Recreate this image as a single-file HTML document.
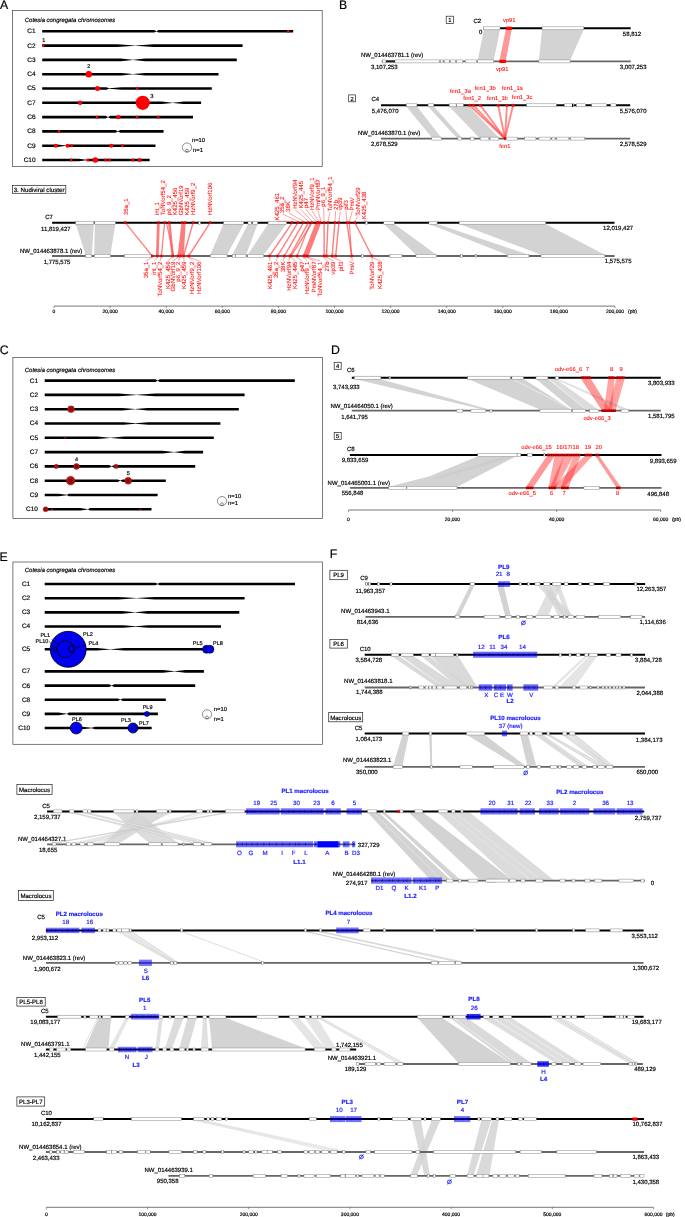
<!DOCTYPE html>
<html><head><meta charset="utf-8"><style>
html,body{margin:0;padding:0;background:#fff;width:685px;height:1217px;overflow:hidden;}
svg{display:block;font-family:"Liberation Sans", sans-serif;will-change:transform;text-rendering:geometricPrecision;}
</style></head><body>
<svg width="685" height="1217" viewBox="0 0 685 1217">
<rect x="0" y="0" width="685" height="1217" fill="#fff"/>
<text x="0.00" y="8.80" font-size="12.3" fill="#000" stroke="#000" stroke-width="0.18">A</text>
<text x="339.00" y="8.80" font-size="12.3" fill="#000" stroke="#000" stroke-width="0.18">B</text>
<text x="-0.30" y="353.80" font-size="12.3" fill="#000" stroke="#000" stroke-width="0.18">C</text>
<text x="331.00" y="353.70" font-size="12.3" fill="#000" stroke="#000" stroke-width="0.18">D</text>
<text x="-0.40" y="560.70" font-size="12.3" fill="#000" stroke="#000" stroke-width="0.18">E</text>
<text x="329.80" y="557.90" font-size="12.3" fill="#000" stroke="#000" stroke-width="0.18">F</text>
<rect x="12.50" y="10.50" width="309.70" height="156.10" fill="#fff" stroke="#444" stroke-width="0.7"/>
<text x="24.80" y="21.60" font-size="5.95" fill="#000" stroke="#000" stroke-width="0.18" font-style="italic">Cotesia congregata chromosomes</text>
<text x="35.60" y="33.24" font-size="6.5" fill="#000" stroke="#000" stroke-width="0.18" text-anchor="end">C1</text>
<polygon points="42.20,30.00 154.20,30.00 156.40,31.15 158.60,30.00 293.20,30.00 293.20,32.60 158.60,32.60 156.40,31.45 154.20,32.60 42.20,32.60" fill="#000"/>
<text x="35.60" y="47.54" font-size="6.5" fill="#000" stroke="#000" stroke-width="0.18" text-anchor="end">C2</text>
<polygon points="42.20,44.30 117.00,44.30 135.30,45.45 153.50,44.30 242.60,44.30 242.60,46.90 153.50,46.90 135.30,45.75 117.00,46.90 42.20,46.90" fill="#000"/>
<text x="35.60" y="61.84" font-size="6.5" fill="#000" stroke="#000" stroke-width="0.18" text-anchor="end">C3</text>
<polygon points="42.20,58.60 120.70,58.60 133.00,59.75 145.50,58.60 236.80,58.60 236.80,61.20 145.50,61.20 133.00,60.05 120.70,61.20 42.20,61.20" fill="#000"/>
<text x="35.60" y="76.14" font-size="6.5" fill="#000" stroke="#000" stroke-width="0.18" text-anchor="end">C4</text>
<polygon points="42.20,72.90 121.40,72.90 133.00,74.05 145.50,72.90 218.50,72.90 218.50,75.50 145.50,75.50 133.00,74.35 121.40,75.50 42.20,75.50" fill="#000"/>
<text x="35.60" y="90.44" font-size="6.5" fill="#000" stroke="#000" stroke-width="0.18" text-anchor="end">C5</text>
<polygon points="42.20,87.20 106.50,87.20 109.00,88.35 121.60,87.20 211.80,87.20 211.80,89.80 121.60,89.80 109.00,88.65 106.50,89.80 42.20,89.80" fill="#000"/>
<text x="35.60" y="104.74" font-size="6.5" fill="#000" stroke="#000" stroke-width="0.18" text-anchor="end">C7</text>
<polygon points="42.20,101.50 161.60,101.50 172.70,102.65 183.80,101.50 201.10,101.50 201.10,104.10 183.80,104.10 172.70,102.95 161.60,104.10 42.20,104.10" fill="#000"/>
<text x="35.60" y="119.04" font-size="6.5" fill="#000" stroke="#000" stroke-width="0.18" text-anchor="end">C6</text>
<polygon points="42.20,115.80 105.50,115.80 108.00,116.95 110.50,115.80 193.00,115.80 193.00,118.40 110.50,118.40 108.00,117.25 105.50,118.40 42.20,118.40" fill="#000"/>
<text x="35.60" y="133.34" font-size="6.5" fill="#000" stroke="#000" stroke-width="0.18" text-anchor="end">C8</text>
<polygon points="42.20,130.10 115.50,130.10 117.90,131.25 120.30,130.10 163.60,130.10 163.60,132.70 120.30,132.70 117.90,131.55 115.50,132.70 42.20,132.70" fill="#000"/>
<text x="35.60" y="147.64" font-size="6.5" fill="#000" stroke="#000" stroke-width="0.18" text-anchor="end">C9</text>
<polygon points="42.20,144.40 57.00,144.40 66.50,145.55 68.50,144.40 155.50,144.40 155.50,147.00 68.50,147.00 66.50,145.85 57.00,147.00 42.20,147.00" fill="#000"/>
<text x="35.60" y="161.94" font-size="6.5" fill="#000" stroke="#000" stroke-width="0.18" text-anchor="end">C10</text>
<polygon points="42.20,158.70 79.00,158.70 86.50,159.85 88.50,158.70 149.60,158.70 149.60,161.30 88.50,161.30 86.50,160.15 79.00,161.30 42.20,161.30" fill="#000"/>
<circle cx="187.00" cy="147.50" r="4.60" fill="none" stroke="#333" stroke-width="0.55"/>
<circle cx="187.00" cy="150.60" r="1.40" fill="none" stroke="#333" stroke-width="0.55"/>
<text x="192.00" y="142.00" font-size="5.8" fill="#000" stroke="#000" stroke-width="0.18">n=10</text>
<text x="193.10" y="152.20" font-size="5.8" fill="#000" stroke="#000" stroke-width="0.18">n=1</text>
<rect x="287.10" y="29.90" width="2.20" height="2.80" fill="#ff0000"/>
<rect x="42.10" y="44.20" width="2.20" height="2.80" fill="#ff0000"/>
<text x="42.20" y="41.68" font-size="5.5" fill="#000" stroke="#000" stroke-width="0.18">1</text>
<circle cx="88.80" cy="74.20" r="3.20" fill="#ff0000"/>
<text x="88.80" y="68.48" font-size="5.5" fill="#000" stroke="#000" stroke-width="0.18" text-anchor="middle">2</text>
<circle cx="97.50" cy="88.50" r="2.50" fill="#ff0000"/>
<rect x="136.10" y="87.10" width="2.20" height="2.80" fill="#ff0000"/>
<circle cx="80.10" cy="102.80" r="2.20" fill="#ff0000"/>
<circle cx="142.70" cy="102.80" r="7.10" fill="#ff0000"/>
<text x="150.20" y="97.99" font-size="5.8" fill="#000" stroke="#000" stroke-width="0.18">3</text>
<rect x="95.90" y="115.70" width="2.20" height="2.80" fill="#ff0000"/>
<circle cx="118.40" cy="117.10" r="2.20" fill="#ff0000"/>
<rect x="136.10" y="115.70" width="2.20" height="2.80" fill="#ff0000"/>
<rect x="157.20" y="115.70" width="2.20" height="2.80" fill="#ff0000"/>
<rect x="57.90" y="130.00" width="2.20" height="2.80" fill="#ff0000"/>
<circle cx="55.80" cy="145.70" r="2.00" fill="#ff0000"/>
<circle cx="67.50" cy="145.70" r="2.00" fill="#ff0000"/>
<rect x="70.60" y="144.30" width="2.20" height="2.80" fill="#ff0000"/>
<circle cx="111.20" cy="145.70" r="2.00" fill="#ff0000"/>
<rect x="121.20" y="144.30" width="2.20" height="2.80" fill="#ff0000"/>
<rect x="70.10" y="158.60" width="2.20" height="2.80" fill="#ff0000"/>
<circle cx="87.60" cy="160.00" r="1.60" fill="#ff0000"/>
<circle cx="95.30" cy="160.00" r="2.80" fill="#ff0000"/>
<rect x="104.40" y="158.60" width="2.20" height="2.80" fill="#ff0000"/>
<rect x="108.10" y="158.60" width="2.20" height="2.80" fill="#ff0000"/>
<rect x="132.20" y="158.60" width="2.20" height="2.80" fill="#ff0000"/>
<circle cx="139.70" cy="160.00" r="2.00" fill="#ff0000"/>
<rect x="12.90" y="357.50" width="309.70" height="161.10" fill="#fff" stroke="#444" stroke-width="0.7"/>
<text x="24.80" y="371.70" font-size="5.95" fill="#000" stroke="#000" stroke-width="0.18" font-style="italic">Cotesia congregata chromosomes</text>
<text x="38.00" y="382.54" font-size="6.5" fill="#000" stroke="#000" stroke-width="0.18" text-anchor="end">C1</text>
<polygon points="44.70,379.30 155.40,379.30 157.60,380.45 159.80,379.30 294.80,379.30 294.80,381.90 159.80,381.90 157.60,380.75 155.40,381.90 44.70,381.90" fill="#000"/>
<text x="38.00" y="396.84" font-size="6.5" fill="#000" stroke="#000" stroke-width="0.18" text-anchor="end">C2</text>
<polygon points="44.70,393.60 118.50,393.60 136.50,394.75 155.00,393.60 244.60,393.60 244.60,396.20 155.00,396.20 136.50,395.05 118.50,396.20 44.70,396.20" fill="#000"/>
<text x="38.00" y="411.14" font-size="6.5" fill="#000" stroke="#000" stroke-width="0.18" text-anchor="end">C3</text>
<polygon points="44.70,407.90 122.50,407.90 135.00,409.05 147.50,407.90 238.80,407.90 238.80,410.50 147.50,410.50 135.00,409.35 122.50,410.50 44.70,410.50" fill="#000"/>
<text x="38.00" y="425.44" font-size="6.5" fill="#000" stroke="#000" stroke-width="0.18" text-anchor="end">C4</text>
<polygon points="44.70,422.20 123.50,422.20 135.50,423.35 148.00,422.20 220.40,422.20 220.40,424.80 148.00,424.80 135.50,423.65 123.50,424.80 44.70,424.80" fill="#000"/>
<text x="38.00" y="439.74" font-size="6.5" fill="#000" stroke="#000" stroke-width="0.18" text-anchor="end">C5</text>
<polygon points="44.70,436.50 97.00,436.50 110.40,437.65 124.00,436.50 213.80,436.50 213.80,439.10 124.00,439.10 110.40,437.95 97.00,439.10 44.70,439.10" fill="#000"/>
<text x="38.00" y="454.04" font-size="6.5" fill="#000" stroke="#000" stroke-width="0.18" text-anchor="end">C7</text>
<polygon points="44.70,450.80 162.50,450.80 174.00,451.95 185.00,450.80 203.10,450.80 203.10,453.40 185.00,453.40 174.00,452.25 162.50,453.40 44.70,453.40" fill="#000"/>
<text x="38.00" y="468.34" font-size="6.5" fill="#000" stroke="#000" stroke-width="0.18" text-anchor="end">C6</text>
<polygon points="44.70,465.10 109.20,465.10 111.70,466.25 114.20,465.10 195.20,465.10 195.20,467.70 114.20,467.70 111.70,466.55 109.20,467.70 44.70,467.70" fill="#000"/>
<text x="38.00" y="482.64" font-size="6.5" fill="#000" stroke="#000" stroke-width="0.18" text-anchor="end">C8</text>
<polygon points="44.70,479.40 117.80,479.40 120.30,480.55 122.80,479.40 165.80,479.40 165.80,482.00 122.80,482.00 120.30,480.85 117.80,482.00 44.70,482.00" fill="#000"/>
<text x="38.00" y="496.94" font-size="6.5" fill="#000" stroke="#000" stroke-width="0.18" text-anchor="end">C9</text>
<polygon points="44.70,493.70 58.50,493.70 67.00,494.85 69.00,493.70 157.60,493.70 157.60,496.30 69.00,496.30 67.00,495.15 58.50,496.30 44.70,496.30" fill="#000"/>
<text x="38.00" y="511.24" font-size="6.5" fill="#000" stroke="#000" stroke-width="0.18" text-anchor="end">C10</text>
<polygon points="44.70,508.00 80.50,508.00 88.00,509.15 90.00,508.00 151.50,508.00 151.50,510.60 90.00,510.60 88.00,509.45 80.50,510.60 44.70,510.60" fill="#000"/>
<circle cx="222.00" cy="501.10" r="4.60" fill="none" stroke="#333" stroke-width="0.55"/>
<circle cx="222.00" cy="504.20" r="1.40" fill="none" stroke="#333" stroke-width="0.55"/>
<text x="228.10" y="498.00" font-size="5.8" fill="#000" stroke="#000" stroke-width="0.18">n=10</text>
<text x="228.10" y="504.60" font-size="5.8" fill="#000" stroke="#000" stroke-width="0.18">n=1</text>
<circle cx="71.00" cy="409.20" r="3.40" fill="#ee1c1c" stroke="#400" stroke-width="0.35"/>
<circle cx="72.57" cy="409.86" r="0.75" fill="none" stroke="#200" stroke-width="0.45"/>
<circle cx="70.85" cy="410.89" r="0.75" fill="none" stroke="#200" stroke-width="0.45"/>
<circle cx="69.34" cy="409.58" r="0.75" fill="none" stroke="#200" stroke-width="0.45"/>
<circle cx="70.12" cy="407.74" r="0.75" fill="none" stroke="#200" stroke-width="0.45"/>
<circle cx="72.11" cy="407.92" r="0.75" fill="none" stroke="#200" stroke-width="0.45"/>
<circle cx="71.00" cy="409.20" r="0.68" fill="none" stroke="#200" stroke-width="0.45"/>
<path d="M64.3 438.8 l1.2 -1.6 l1.2 1.2" stroke="#e31a1c" stroke-width="0.8" fill="none"/>
<circle cx="56.30" cy="466.40" r="2.20" fill="#ee1c1c" stroke="#400" stroke-width="0.35"/>
<circle cx="57.31" cy="466.83" r="0.50" fill="none" stroke="#200" stroke-width="0.45"/>
<circle cx="55.42" cy="467.06" r="0.50" fill="none" stroke="#200" stroke-width="0.45"/>
<circle cx="56.16" cy="465.31" r="0.50" fill="none" stroke="#200" stroke-width="0.45"/>
<circle cx="76.50" cy="466.40" r="3.00" fill="#ee1c1c" stroke="#400" stroke-width="0.35"/>
<circle cx="77.88" cy="466.98" r="0.66" fill="none" stroke="#200" stroke-width="0.45"/>
<circle cx="76.37" cy="467.89" r="0.66" fill="none" stroke="#200" stroke-width="0.45"/>
<circle cx="75.04" cy="466.74" r="0.66" fill="none" stroke="#200" stroke-width="0.45"/>
<circle cx="75.73" cy="465.12" r="0.66" fill="none" stroke="#200" stroke-width="0.45"/>
<circle cx="77.48" cy="465.27" r="0.66" fill="none" stroke="#200" stroke-width="0.45"/>
<circle cx="76.50" cy="466.40" r="0.60" fill="none" stroke="#200" stroke-width="0.45"/>
<text x="76.50" y="461.08" font-size="5.5" fill="#000" stroke="#000" stroke-width="0.18" text-anchor="middle">4</text>
<circle cx="116.10" cy="466.40" r="2.20" fill="#ee1c1c" stroke="#400" stroke-width="0.35"/>
<circle cx="117.11" cy="466.83" r="0.50" fill="none" stroke="#200" stroke-width="0.45"/>
<circle cx="115.22" cy="467.06" r="0.50" fill="none" stroke="#200" stroke-width="0.45"/>
<circle cx="115.96" cy="465.31" r="0.50" fill="none" stroke="#200" stroke-width="0.45"/>
<circle cx="70.60" cy="480.70" r="4.40" fill="#ee1c1c" stroke="#400" stroke-width="0.35"/>
<circle cx="72.63" cy="481.56" r="0.97" fill="none" stroke="#200" stroke-width="0.45"/>
<circle cx="71.19" cy="482.82" r="0.97" fill="none" stroke="#200" stroke-width="0.45"/>
<circle cx="69.31" cy="482.48" r="0.97" fill="none" stroke="#200" stroke-width="0.45"/>
<circle cx="68.40" cy="480.81" r="0.97" fill="none" stroke="#200" stroke-width="0.45"/>
<circle cx="69.15" cy="479.05" r="0.97" fill="none" stroke="#200" stroke-width="0.45"/>
<circle cx="70.98" cy="478.53" r="0.97" fill="none" stroke="#200" stroke-width="0.45"/>
<circle cx="72.53" cy="479.65" r="0.97" fill="none" stroke="#200" stroke-width="0.45"/>
<circle cx="70.60" cy="480.70" r="0.88" fill="none" stroke="#200" stroke-width="0.45"/>
<circle cx="128.20" cy="480.70" r="3.50" fill="#ee1c1c" stroke="#400" stroke-width="0.35"/>
<circle cx="129.81" cy="481.38" r="0.77" fill="none" stroke="#200" stroke-width="0.45"/>
<circle cx="128.05" cy="482.44" r="0.77" fill="none" stroke="#200" stroke-width="0.45"/>
<circle cx="126.50" cy="481.10" r="0.77" fill="none" stroke="#200" stroke-width="0.45"/>
<circle cx="127.30" cy="479.20" r="0.77" fill="none" stroke="#200" stroke-width="0.45"/>
<circle cx="129.35" cy="479.38" r="0.77" fill="none" stroke="#200" stroke-width="0.45"/>
<circle cx="128.20" cy="480.70" r="0.70" fill="none" stroke="#200" stroke-width="0.45"/>
<text x="128.20" y="474.78" font-size="5.5" fill="#000" stroke="#000" stroke-width="0.18" text-anchor="middle">5</text>
<circle cx="45.60" cy="509.30" r="2.50" fill="#ee1c1c" stroke="#400" stroke-width="0.35"/>
<circle cx="46.75" cy="509.79" r="0.55" fill="none" stroke="#200" stroke-width="0.45"/>
<circle cx="45.11" cy="510.45" r="0.55" fill="none" stroke="#200" stroke-width="0.45"/>
<circle cx="44.45" cy="508.81" r="0.55" fill="none" stroke="#200" stroke-width="0.45"/>
<circle cx="46.09" cy="508.15" r="0.55" fill="none" stroke="#200" stroke-width="0.45"/>
<path d="M51.2 510.30000000000007 l1.0 -1.6 l1.0 1.2" stroke="#e31a1c" stroke-width="0.8" fill="none"/>
<path d="M139.3 510.30000000000007 l1.0 -1.6 l1.0 1.2" stroke="#e31a1c" stroke-width="0.8" fill="none"/>
<rect x="12.90" y="562.00" width="309.50" height="182.30" fill="#fff" stroke="#444" stroke-width="0.7"/>
<text x="24.80" y="571.60" font-size="5.95" fill="#000" stroke="#000" stroke-width="0.18" font-style="italic">Cotesia congregata chromosomes</text>
<text x="30.20" y="585.94" font-size="6.5" fill="#000" stroke="#000" stroke-width="0.18" text-anchor="end">C1</text>
<polygon points="44.70,582.70 155.40,582.70 157.60,583.85 159.80,582.70 295.00,582.70 295.00,585.30 159.80,585.30 157.60,584.15 155.40,585.30 44.70,585.30" fill="#000"/>
<text x="30.20" y="600.14" font-size="6.5" fill="#000" stroke="#000" stroke-width="0.18" text-anchor="end">C2</text>
<polygon points="44.70,596.90 118.50,596.90 136.50,598.05 155.00,596.90 244.60,596.90 244.60,599.50 155.00,599.50 136.50,598.35 118.50,599.50 44.70,599.50" fill="#000"/>
<text x="30.20" y="614.34" font-size="6.5" fill="#000" stroke="#000" stroke-width="0.18" text-anchor="end">C3</text>
<polygon points="44.70,611.10 122.50,611.10 135.00,612.25 147.50,611.10 239.30,611.10 239.30,613.70 147.50,613.70 135.00,612.55 122.50,613.70 44.70,613.70" fill="#000"/>
<text x="30.20" y="628.44" font-size="6.5" fill="#000" stroke="#000" stroke-width="0.18" text-anchor="end">C4</text>
<polygon points="44.70,625.20 123.50,625.20 135.50,626.35 148.00,625.20 221.00,625.20 221.00,627.80 148.00,627.80 135.50,626.65 123.50,627.80 44.70,627.80" fill="#000"/>
<text x="30.20" y="651.24" font-size="6.5" fill="#000" stroke="#000" stroke-width="0.18" text-anchor="end">C5</text>
<polygon points="44.70,648.00 97.00,648.00 110.40,649.15 124.00,648.00 213.00,648.00 213.00,650.60 124.00,650.60 110.40,649.45 97.00,650.60 44.70,650.60" fill="#000"/>
<text x="30.20" y="673.34" font-size="6.5" fill="#000" stroke="#000" stroke-width="0.18" text-anchor="end">C7</text>
<polygon points="44.70,670.10 163.00,670.10 174.50,671.25 185.50,670.10 203.90,670.10 203.90,672.70 185.50,672.70 174.50,671.55 163.00,672.70 44.70,672.70" fill="#000"/>
<text x="30.20" y="687.54" font-size="6.5" fill="#000" stroke="#000" stroke-width="0.18" text-anchor="end">C6</text>
<polygon points="44.70,684.30 109.20,684.30 111.70,685.45 114.20,684.30 195.20,684.30 195.20,686.90 114.20,686.90 111.70,685.75 109.20,686.90 44.70,686.90" fill="#000"/>
<text x="30.20" y="701.64" font-size="6.5" fill="#000" stroke="#000" stroke-width="0.18" text-anchor="end">C8</text>
<polygon points="44.70,698.40 117.80,698.40 120.30,699.55 122.80,698.40 165.80,698.40 165.80,701.00 122.80,701.00 120.30,699.85 117.80,701.00 44.70,701.00" fill="#000"/>
<text x="30.20" y="715.84" font-size="6.5" fill="#000" stroke="#000" stroke-width="0.18" text-anchor="end">C9</text>
<polygon points="44.70,712.60 58.50,712.60 67.00,713.75 69.00,712.60 157.90,712.60 157.90,715.20 69.00,715.20 67.00,714.05 58.50,715.20 44.70,715.20" fill="#000"/>
<text x="30.20" y="729.94" font-size="6.5" fill="#000" stroke="#000" stroke-width="0.18" text-anchor="end">C10</text>
<polygon points="44.70,726.70 82.00,726.70 91.80,727.85 95.00,726.70 151.70,726.70 151.70,729.30 95.00,729.30 91.80,728.15 82.00,729.30 44.70,729.30" fill="#000"/>
<circle cx="207.00" cy="714.30" r="4.60" fill="none" stroke="#333" stroke-width="0.55"/>
<circle cx="207.00" cy="717.40" r="1.40" fill="none" stroke="#333" stroke-width="0.55"/>
<text x="213.80" y="711.40" font-size="5.8" fill="#000" stroke="#000" stroke-width="0.18">n=10</text>
<text x="213.80" y="720.80" font-size="5.8" fill="#000" stroke="#000" stroke-width="0.18">n=1</text>
<circle cx="68.20" cy="649.30" r="18.00" fill="#0000ee" stroke="#000" stroke-width="0.8"/>
<circle cx="65.30" cy="649.20" r="8.40" fill="none" stroke="#000" stroke-width="0.8"/>
<circle cx="71.90" cy="648.90" r="3.40" fill="none" stroke="#000" stroke-width="0.8"/>
<circle cx="54.80" cy="649.30" r="2.00" fill="none" stroke="#000" stroke-width="0.8"/>
<text x="40.40" y="637.38" font-size="5.5" fill="#000" stroke="#000" stroke-width="0.18">PL1</text>
<text x="35.50" y="643.28" font-size="5.5" fill="#000" stroke="#000" stroke-width="0.18">PL10</text>
<text x="83.10" y="636.38" font-size="5.5" fill="#000" stroke="#000" stroke-width="0.18">PL2</text>
<text x="88.60" y="644.78" font-size="5.5" fill="#000" stroke="#000" stroke-width="0.18">PL4</text>
<line x1="51.60" y1="639.60" x2="58.00" y2="643.70" stroke="#000" stroke-width="0.6"/>
<line x1="49.30" y1="641.40" x2="53.50" y2="647.40" stroke="#000" stroke-width="0.6"/>
<line x1="75.30" y1="647.80" x2="86.00" y2="645.10" stroke="#000" stroke-width="0.6"/>
<circle cx="206.50" cy="649.30" r="4.00" fill="#0000ee" stroke="#000" stroke-width="0.6"/>
<circle cx="209.90" cy="649.30" r="4.00" fill="#0000ee" stroke="#000" stroke-width="0.6"/>
<text x="192.80" y="644.78" font-size="5.5" fill="#000" stroke="#000" stroke-width="0.18">PL5</text>
<text x="213.00" y="644.78" font-size="5.5" fill="#000" stroke="#000" stroke-width="0.18">PL8</text>
<circle cx="146.90" cy="713.90" r="2.50" fill="#0000ee" stroke="#000" stroke-width="0.6"/>
<text x="142.70" y="708.68" font-size="5.5" fill="#000" stroke="#000" stroke-width="0.18">PL9</text>
<circle cx="76.20" cy="728.00" r="6.00" fill="#0000ee" stroke="#000" stroke-width="0.7"/>
<text x="72.00" y="720.78" font-size="5.5" fill="#000" stroke="#000" stroke-width="0.18">PL6</text>
<circle cx="133.00" cy="728.00" r="5.00" fill="#0000ee" stroke="#000" stroke-width="0.8"/>
<circle cx="134.50" cy="728.30" r="2.60" fill="none" stroke="#000" stroke-width="0.5"/>
<text x="121.00" y="722.28" font-size="5.5" fill="#000" stroke="#000" stroke-width="0.18">PL3</text>
<text x="139.00" y="724.78" font-size="5.5" fill="#000" stroke="#000" stroke-width="0.18">PL7</text>
<rect x="446.20" y="16.20" width="7.40" height="7.40" fill="#fff" stroke="#222" stroke-width="0.7"/>
<text x="449.90" y="22.28" font-size="5.775" fill="#000" stroke="#000" stroke-width="0.18" text-anchor="middle">1</text>
<text x="473.50" y="23.36" font-size="6.0" fill="#000" stroke="#000" stroke-width="0.18">C2</text>
<text x="482.30" y="33.96" font-size="6.0" fill="#000" stroke="#000" stroke-width="0.18" text-anchor="end">0</text>
<polygon points="484.00,29.50 500.00,29.50 493.80,60.20 477.70,60.20" fill="#d3d3d3"/>
<polygon points="542.10,29.50 583.80,29.50 570.10,60.20 538.90,60.20" fill="#d3d3d3"/>
<polygon points="505.90,29.30 511.80,29.30 505.90,60.40 499.40,60.40" fill="#ff1a1a" fill-opacity="0.45"/>
<line x1="483.40" y1="28.30" x2="630.70" y2="28.30" stroke="#000" stroke-width="2.0"/>
<rect x="483.40" y="26.80" width="16.60" height="3.00" fill="#fff" stroke="#888" stroke-width="0.5"/>
<rect x="542.10" y="26.80" width="41.70" height="3.00" fill="#fff" stroke="#888" stroke-width="0.5"/>
<line x1="381.70" y1="61.40" x2="630.70" y2="61.40" stroke="#666666" stroke-width="1.8"/>
<rect x="382.70" y="59.90" width="3.20" height="3.00" fill="#fff" stroke="#888" stroke-width="0.5"/>
<rect x="395.00" y="59.90" width="44.30" height="3.00" fill="#fff" stroke="#888" stroke-width="0.5"/>
<rect x="440.50" y="59.90" width="2.50" height="3.00" fill="#fff" stroke="#888" stroke-width="0.5"/>
<rect x="444.20" y="59.90" width="5.00" height="3.00" fill="#fff" stroke="#888" stroke-width="0.5"/>
<rect x="450.40" y="59.90" width="5.00" height="3.00" fill="#fff" stroke="#888" stroke-width="0.5"/>
<rect x="456.60" y="59.90" width="6.20" height="3.00" fill="#fff" stroke="#888" stroke-width="0.5"/>
<rect x="465.30" y="59.90" width="11.20" height="3.00" fill="#fff" stroke="#888" stroke-width="0.5"/>
<rect x="477.70" y="59.90" width="16.10" height="3.00" fill="#fff" stroke="#888" stroke-width="0.5"/>
<rect x="538.90" y="59.90" width="31.20" height="3.00" fill="#fff" stroke="#888" stroke-width="0.5"/>
<rect x="386.00" y="60.40" width="9.00" height="2.00" fill="#222"/>
<rect x="505.90" y="26.70" width="5.90" height="3.20" fill="#ff0000"/>
<rect x="499.40" y="59.80" width="6.50" height="3.20" fill="#ff0000"/>
<text x="509.30" y="21.99" font-size="5.8" fill="#ff0000" stroke="#ff0000" stroke-width="0.072" text-anchor="middle">vp91</text>
<text x="502.20" y="71.09" font-size="5.8" fill="#ff0000" stroke="#ff0000" stroke-width="0.072" text-anchor="middle">vp91</text>
<text x="361.00" y="56.86" font-size="6.0" fill="#000" stroke="#000" stroke-width="0.18">NW_014463781.1 (rev)</text>
<text x="371.00" y="68.76" font-size="6.0" fill="#000" stroke="#000" stroke-width="0.18">3,107,253</text>
<text x="622.80" y="35.96" font-size="6.0" fill="#000" stroke="#000" stroke-width="0.18">58,812</text>
<text x="619.80" y="68.76" font-size="6.0" fill="#000" stroke="#000" stroke-width="0.18">3,007,253</text>
<rect x="348.70" y="94.90" width="6.70" height="6.90" fill="#fff" stroke="#222" stroke-width="0.7"/>
<text x="352.05" y="100.73" font-size="5.775" fill="#000" stroke="#000" stroke-width="0.18" text-anchor="middle">2</text>
<text x="371.50" y="101.26" font-size="6.0" fill="#000" stroke="#000" stroke-width="0.18">C4</text>
<polygon points="406.30,106.50 417.00,106.50 441.20,137.40 431.80,137.40" fill="#d3d3d3"/>
<polygon points="428.00,106.50 433.80,106.50 461.60,137.40 456.60,137.40" fill="#d3d3d3"/>
<polygon points="449.20,106.50 469.00,106.50 498.80,137.40 479.00,137.40" fill="#d3d3d3"/>
<line x1="381.00" y1="105.30" x2="630.20" y2="105.30" stroke="#000" stroke-width="2.0"/>
<rect x="406.30" y="103.80" width="10.60" height="3.00" fill="#fff" stroke="#888" stroke-width="0.5"/>
<rect x="428.10" y="103.80" width="5.70" height="3.00" fill="#fff" stroke="#888" stroke-width="0.5"/>
<rect x="449.20" y="103.80" width="6.90" height="3.00" fill="#fff" stroke="#888" stroke-width="0.5"/>
<rect x="456.60" y="103.80" width="6.70" height="3.00" fill="#fff" stroke="#888" stroke-width="0.5"/>
<rect x="526.70" y="103.80" width="29.60" height="3.00" fill="#fff" stroke="#888" stroke-width="0.5"/>
<rect x="564.40" y="103.80" width="9.50" height="3.00" fill="#fff" stroke="#888" stroke-width="0.5"/>
<rect x="576.40" y="103.80" width="9.10" height="3.00" fill="#fff" stroke="#888" stroke-width="0.5"/>
<rect x="591.70" y="103.80" width="14.90" height="3.00" fill="#fff" stroke="#888" stroke-width="0.5"/>
<rect x="610.80" y="103.80" width="5.20" height="3.00" fill="#fff" stroke="#888" stroke-width="0.5"/>
<rect x="572.00" y="103.80" width="1.20" height="3.00" fill="#000"/>
<line x1="381.00" y1="138.60" x2="630.20" y2="138.60" stroke="#666666" stroke-width="1.8"/>
<rect x="431.80" y="137.10" width="9.40" height="3.00" fill="#fff" stroke="#888" stroke-width="0.5"/>
<rect x="457.90" y="137.10" width="3.70" height="3.00" fill="#fff" stroke="#888" stroke-width="0.5"/>
<rect x="470.30" y="137.10" width="3.70" height="3.00" fill="#fff" stroke="#888" stroke-width="0.5"/>
<rect x="480.20" y="137.10" width="8.70" height="3.00" fill="#fff" stroke="#888" stroke-width="0.5"/>
<rect x="490.10" y="137.10" width="8.70" height="3.00" fill="#fff" stroke="#888" stroke-width="0.5"/>
<rect x="506.00" y="137.10" width="11.30" height="3.00" fill="#fff" stroke="#888" stroke-width="0.5"/>
<rect x="524.70" y="137.10" width="11.20" height="3.00" fill="#fff" stroke="#888" stroke-width="0.5"/>
<rect x="539.00" y="137.10" width="11.80" height="3.00" fill="#fff" stroke="#888" stroke-width="0.5"/>
<rect x="552.00" y="137.10" width="3.00" height="3.00" fill="#fff" stroke="#888" stroke-width="0.5"/>
<rect x="556.50" y="137.10" width="12.40" height="3.00" fill="#fff" stroke="#888" stroke-width="0.5"/>
<rect x="570.60" y="137.10" width="14.20" height="3.00" fill="#fff" stroke="#888" stroke-width="0.5"/>
<line x1="469.50" y1="105.30" x2="505.00" y2="138.60" stroke="#ff4040" stroke-width="1.9" stroke-opacity="0.6"/>
<circle cx="469.50" cy="105.30" r="1.50" fill="#ff0000"/>
<line x1="473.50" y1="105.30" x2="505.00" y2="138.60" stroke="#ff4040" stroke-width="1.9" stroke-opacity="0.6"/>
<circle cx="473.50" cy="105.30" r="1.50" fill="#ff0000"/>
<line x1="480.40" y1="105.30" x2="505.00" y2="138.60" stroke="#ff4040" stroke-width="1.9" stroke-opacity="0.6"/>
<circle cx="480.40" cy="105.30" r="1.50" fill="#ff0000"/>
<line x1="498.20" y1="105.30" x2="505.00" y2="138.60" stroke="#ff4040" stroke-width="1.9" stroke-opacity="0.6"/>
<circle cx="498.20" cy="105.30" r="1.50" fill="#ff0000"/>
<line x1="506.90" y1="105.30" x2="505.00" y2="138.60" stroke="#ff4040" stroke-width="1.9" stroke-opacity="0.6"/>
<circle cx="506.90" cy="105.30" r="1.50" fill="#ff0000"/>
<line x1="513.10" y1="105.30" x2="505.00" y2="138.60" stroke="#ff4040" stroke-width="1.9" stroke-opacity="0.6"/>
<circle cx="513.10" cy="105.30" r="1.50" fill="#ff0000"/>
<circle cx="505.00" cy="138.60" r="1.40" fill="#c00"/>
<text x="450.00" y="93.49" font-size="5.8" fill="#ff0000" stroke="#ff0000" stroke-width="0.072">fen1_3a</text>
<text x="463.30" y="99.99" font-size="5.8" fill="#ff0000" stroke="#ff0000" stroke-width="0.072">fen1_2</text>
<text x="474.70" y="90.29" font-size="5.8" fill="#ff0000" stroke="#ff0000" stroke-width="0.072">fen1_3b</text>
<text x="486.90" y="99.99" font-size="5.8" fill="#ff0000" stroke="#ff0000" stroke-width="0.072">fen1_1b</text>
<text x="501.90" y="90.09" font-size="5.8" fill="#ff0000" stroke="#ff0000" stroke-width="0.072">fen1_1a</text>
<text x="511.80" y="99.49" font-size="5.8" fill="#ff0000" stroke="#ff0000" stroke-width="0.072">fen1_3c</text>
<text x="499.20" y="147.89" font-size="5.8" fill="#ff0000" stroke="#ff0000" stroke-width="0.072">fen1</text>
<text x="371.80" y="113.16" font-size="6.0" fill="#000" stroke="#000" stroke-width="0.18">5,476,070</text>
<text x="357.90" y="135.46" font-size="6.0" fill="#000" stroke="#000" stroke-width="0.18">NW_014463870.1 (rev)</text>
<text x="371.00" y="145.96" font-size="6.0" fill="#000" stroke="#000" stroke-width="0.18">2,678,529</text>
<text x="619.80" y="113.16" font-size="6.0" fill="#000" stroke="#000" stroke-width="0.18">5,576,070</text>
<text x="619.80" y="145.96" font-size="6.0" fill="#000" stroke="#000" stroke-width="0.18">2,578,529</text>
<rect x="12.40" y="185.40" width="53.40" height="7.90" fill="#fff" stroke="#222" stroke-width="0.7"/>
<text x="39.10" y="191.88" font-size="6.195" fill="#000" stroke="#000" stroke-width="0.18" text-anchor="middle">3. Nudiviral cluster</text>
<text x="45.20" y="218.56" font-size="6.0" fill="#000" stroke="#000" stroke-width="0.18">C7</text>
<text x="41.00" y="230.76" font-size="6.0" fill="#000" stroke="#000" stroke-width="0.18">11,819,427</text>
<text x="19.90" y="252.76" font-size="6.0" fill="#000" stroke="#000" stroke-width="0.18">NW_014463878.1 (rev)</text>
<text x="43.70" y="263.76" font-size="6.0" fill="#000" stroke="#000" stroke-width="0.18">1,775,575</text>
<text x="603.10" y="230.46" font-size="6.0" fill="#000" stroke="#000" stroke-width="0.18">12,019,427</text>
<text x="604.80" y="263.26" font-size="6.0" fill="#000" stroke="#000" stroke-width="0.18">1,575,575</text>
<polygon points="75.70,223.90 93.80,223.90 91.80,254.80 85.60,254.80" fill="#d3d3d3"/>
<polygon points="94.80,223.90 115.40,223.90 110.40,254.80 94.30,254.80" fill="#d3d3d3"/>
<polygon points="223.60,223.90 243.70,223.90 227.10,254.80 210.30,254.80" fill="#d3d3d3"/>
<polygon points="248.00,223.90 257.60,223.90 246.10,254.80 232.40,254.80" fill="#d3d3d3"/>
<polygon points="268.10,223.90 286.50,223.90 263.70,254.80 247.70,254.80" fill="#d3d3d3"/>
<polygon points="383.80,223.90 394.30,223.90 436.40,254.80 416.00,254.80" fill="#d3d3d3"/>
<polygon points="429.00,223.90 437.10,223.90 528.90,254.80 507.20,254.80" fill="#d3d3d3"/>
<polygon points="459.20,223.90 545.70,223.90 604.80,254.80 541.10,254.80" fill="#d3d3d3"/>
<line x1="125.20" y1="222.70" x2="152.20" y2="256.00" stroke="#ff5050" stroke-width="1.26" stroke-opacity="0.75"/>
<line x1="158.40" y1="222.70" x2="157.30" y2="256.00" stroke="#ff5050" stroke-width="2.8" stroke-opacity="0.75"/>
<line x1="164.60" y1="222.70" x2="161.40" y2="256.00" stroke="#ff5050" stroke-width="1.26" stroke-opacity="0.75"/>
<line x1="169.30" y1="222.70" x2="172.70" y2="256.00" stroke="#ff5050" stroke-width="2.52" stroke-opacity="0.75"/>
<line x1="166.50" y1="222.70" x2="173.50" y2="256.00" stroke="#ff5050" stroke-width="1.1199999999999999" stroke-opacity="0.75"/>
<polygon points="181.50,222.70 185.60,222.70 183.80,256.00 177.50,256.00" fill="#ff5050" fill-opacity="0.75"/>
<line x1="193.10" y1="222.70" x2="183.60" y2="256.00" stroke="#ff5050" stroke-width="1.4" stroke-opacity="0.75"/>
<line x1="210.20" y1="222.70" x2="188.70" y2="256.00" stroke="#ff5050" stroke-width="1.4" stroke-opacity="0.75"/>
<line x1="292.30" y1="222.70" x2="269.50" y2="256.00" stroke="#ff5050" stroke-width="1.4" stroke-opacity="0.75"/>
<line x1="297.90" y1="222.70" x2="277.50" y2="256.00" stroke="#ff5050" stroke-width="1.4" stroke-opacity="0.75"/>
<line x1="303.50" y1="222.70" x2="284.30" y2="256.00" stroke="#ff5050" stroke-width="1.4" stroke-opacity="0.75"/>
<line x1="308.40" y1="222.70" x2="289.90" y2="256.00" stroke="#ff5050" stroke-width="1.4" stroke-opacity="0.75"/>
<line x1="312.10" y1="222.70" x2="291.20" y2="256.00" stroke="#ff5050" stroke-width="1.4" stroke-opacity="0.75"/>
<line x1="310.50" y1="222.70" x2="297.10" y2="256.00" stroke="#ff5050" stroke-width="1.1199999999999999" stroke-opacity="0.75"/>
<polygon points="315.60,222.70 321.20,222.70 308.40,256.00 302.70,256.00" fill="#ff5050" fill-opacity="0.75"/>
<line x1="324.10" y1="222.70" x2="324.10" y2="256.00" stroke="#ff5050" stroke-width="1.4" stroke-opacity="0.75"/>
<line x1="328.00" y1="222.70" x2="326.50" y2="256.00" stroke="#ff5050" stroke-width="1.4" stroke-opacity="0.75"/>
<line x1="334.90" y1="222.70" x2="332.10" y2="256.00" stroke="#ff5050" stroke-width="1.4" stroke-opacity="0.75"/>
<line x1="338.90" y1="222.70" x2="335.70" y2="256.00" stroke="#ff5050" stroke-width="1.4" stroke-opacity="0.75"/>
<line x1="346.90" y1="222.70" x2="351.70" y2="256.00" stroke="#ff5050" stroke-width="1.4" stroke-opacity="0.75"/>
<line x1="349.30" y1="222.70" x2="351.70" y2="256.00" stroke="#ff5050" stroke-width="1.1199999999999999" stroke-opacity="0.75"/>
<line x1="354.90" y1="222.70" x2="371.80" y2="256.00" stroke="#ff5050" stroke-width="1.4" stroke-opacity="0.75"/>
<line x1="52.10" y1="222.70" x2="614.50" y2="222.70" stroke="#000" stroke-width="2.0"/>
<rect x="75.70" y="221.20" width="18.10" height="3.00" fill="#fff" stroke="#888" stroke-width="0.5"/>
<rect x="94.80" y="221.20" width="20.60" height="3.00" fill="#fff" stroke="#888" stroke-width="0.5"/>
<rect x="198.60" y="221.20" width="1.80" height="3.00" fill="#fff" stroke="#888" stroke-width="0.5"/>
<rect x="223.60" y="221.20" width="20.10" height="3.00" fill="#fff" stroke="#888" stroke-width="0.5"/>
<rect x="248.00" y="221.20" width="3.50" height="3.00" fill="#fff" stroke="#888" stroke-width="0.5"/>
<rect x="252.80" y="221.20" width="4.80" height="3.00" fill="#fff" stroke="#888" stroke-width="0.5"/>
<rect x="268.10" y="221.20" width="18.40" height="3.00" fill="#fff" stroke="#888" stroke-width="0.5"/>
<rect x="365.60" y="221.20" width="1.80" height="3.00" fill="#fff" stroke="#888" stroke-width="0.5"/>
<rect x="383.80" y="221.20" width="10.50" height="3.00" fill="#fff" stroke="#888" stroke-width="0.5"/>
<rect x="429.00" y="221.20" width="8.10" height="3.00" fill="#fff" stroke="#888" stroke-width="0.5"/>
<rect x="459.20" y="221.20" width="86.50" height="3.00" fill="#fff" stroke="#888" stroke-width="0.5"/>
<line x1="52.00" y1="256.00" x2="614.50" y2="256.00" stroke="#666666" stroke-width="1.8"/>
<rect x="85.60" y="254.50" width="6.20" height="3.00" fill="#fff" stroke="#888" stroke-width="0.5"/>
<rect x="94.30" y="254.50" width="16.10" height="3.00" fill="#fff" stroke="#888" stroke-width="0.5"/>
<rect x="124.50" y="254.50" width="27.00" height="3.00" fill="#fff" stroke="#888" stroke-width="0.5"/>
<rect x="210.30" y="254.50" width="16.80" height="3.00" fill="#fff" stroke="#888" stroke-width="0.5"/>
<rect x="232.40" y="254.50" width="2.70" height="3.00" fill="#fff" stroke="#888" stroke-width="0.5"/>
<rect x="235.50" y="254.50" width="10.60" height="3.00" fill="#fff" stroke="#888" stroke-width="0.5"/>
<rect x="247.70" y="254.50" width="16.00" height="3.00" fill="#fff" stroke="#888" stroke-width="0.5"/>
<rect x="361.60" y="254.50" width="1.80" height="3.00" fill="#fff" stroke="#888" stroke-width="0.5"/>
<rect x="389.80" y="254.50" width="12.20" height="3.00" fill="#fff" stroke="#888" stroke-width="0.5"/>
<rect x="416.00" y="254.50" width="20.40" height="3.00" fill="#fff" stroke="#888" stroke-width="0.5"/>
<rect x="460.55" y="254.50" width="1.80" height="3.00" fill="#fff" stroke="#888" stroke-width="0.5"/>
<rect x="475.00" y="254.50" width="1.50" height="3.00" fill="#fff" stroke="#888" stroke-width="0.5"/>
<rect x="507.20" y="254.50" width="21.70" height="3.00" fill="#fff" stroke="#888" stroke-width="0.5"/>
<rect x="541.00" y="254.50" width="63.80" height="3.00" fill="#fff" stroke="#888" stroke-width="0.5"/>
<rect x="124.00" y="221.40" width="2.40" height="2.60" fill="#e00"/>
<rect x="157.20" y="221.40" width="2.40" height="2.60" fill="#e00"/>
<rect x="163.40" y="221.40" width="2.40" height="2.60" fill="#e00"/>
<rect x="168.10" y="221.40" width="2.40" height="2.60" fill="#e00"/>
<rect x="181.00" y="221.40" width="2.40" height="2.60" fill="#e00"/>
<rect x="183.90" y="221.40" width="2.40" height="2.60" fill="#e00"/>
<rect x="191.90" y="221.40" width="2.40" height="2.60" fill="#e00"/>
<rect x="209.00" y="221.40" width="2.40" height="2.60" fill="#e00"/>
<rect x="291.10" y="221.40" width="2.40" height="2.60" fill="#e00"/>
<rect x="296.70" y="221.40" width="2.40" height="2.60" fill="#e00"/>
<rect x="302.30" y="221.40" width="2.40" height="2.60" fill="#e00"/>
<rect x="307.20" y="221.40" width="2.40" height="2.60" fill="#e00"/>
<rect x="310.90" y="221.40" width="2.40" height="2.60" fill="#e00"/>
<rect x="322.90" y="221.40" width="2.40" height="2.60" fill="#e00"/>
<rect x="326.80" y="221.40" width="2.40" height="2.60" fill="#e00"/>
<rect x="333.70" y="221.40" width="2.40" height="2.60" fill="#e00"/>
<rect x="337.70" y="221.40" width="2.40" height="2.60" fill="#e00"/>
<rect x="345.70" y="221.40" width="2.40" height="2.60" fill="#e00"/>
<rect x="348.10" y="221.40" width="2.40" height="2.60" fill="#e00"/>
<rect x="353.70" y="221.40" width="2.40" height="2.60" fill="#e00"/>
<rect x="315.60" y="221.30" width="5.60" height="2.80" fill="#e00"/>
<rect x="151.00" y="254.70" width="2.40" height="2.60" fill="#e00"/>
<rect x="156.10" y="254.70" width="2.40" height="2.60" fill="#e00"/>
<rect x="160.20" y="254.70" width="2.40" height="2.60" fill="#e00"/>
<rect x="171.50" y="254.70" width="2.40" height="2.60" fill="#e00"/>
<rect x="176.90" y="254.70" width="2.40" height="2.60" fill="#e00"/>
<rect x="179.20" y="254.70" width="2.40" height="2.60" fill="#e00"/>
<rect x="182.40" y="254.70" width="2.40" height="2.60" fill="#e00"/>
<rect x="187.50" y="254.70" width="2.40" height="2.60" fill="#e00"/>
<rect x="268.30" y="254.70" width="2.40" height="2.60" fill="#e00"/>
<rect x="276.30" y="254.70" width="2.40" height="2.60" fill="#e00"/>
<rect x="283.10" y="254.70" width="2.40" height="2.60" fill="#e00"/>
<rect x="288.70" y="254.70" width="2.40" height="2.60" fill="#e00"/>
<rect x="290.00" y="254.70" width="2.40" height="2.60" fill="#e00"/>
<rect x="295.90" y="254.70" width="2.40" height="2.60" fill="#e00"/>
<rect x="322.90" y="254.70" width="2.40" height="2.60" fill="#e00"/>
<rect x="325.30" y="254.70" width="2.40" height="2.60" fill="#e00"/>
<rect x="330.90" y="254.70" width="2.40" height="2.60" fill="#e00"/>
<rect x="334.50" y="254.70" width="2.40" height="2.60" fill="#e00"/>
<rect x="350.50" y="254.70" width="2.40" height="2.60" fill="#e00"/>
<rect x="370.60" y="254.70" width="2.40" height="2.60" fill="#e00"/>
<rect x="302.70" y="254.60" width="5.70" height="2.80" fill="#e00"/>
<text x="127.58" y="215.20" font-size="6.05" fill="#ff1010" stroke="#ff1010" stroke-width="0.072" transform="rotate(-90 127.58 215.20)">35a_1</text>
<text x="159.48" y="215.20" font-size="6.05" fill="#ff1010" stroke="#ff1010" stroke-width="0.072" transform="rotate(-90 159.48 215.20)">int_1</text>
<text x="164.68" y="215.20" font-size="6.05" fill="#ff1010" stroke="#ff1010" stroke-width="0.072" transform="rotate(-90 164.68 215.20)">ToNVorf54_2</text>
<text x="171.18" y="215.20" font-size="6.05" fill="#ff1010" stroke="#ff1010" stroke-width="0.072" transform="rotate(-90 171.18 215.20)">p6_9_2</text>
<text x="177.28" y="215.20" font-size="6.05" fill="#ff1010" stroke="#ff1010" stroke-width="0.072" transform="rotate(-90 177.28 215.20)">K425_456</text>
<text x="183.48" y="215.20" font-size="6.05" fill="#ff1010" stroke="#ff1010" stroke-width="0.072" transform="rotate(-90 183.48 215.20)">GbNVorf19</text>
<text x="188.88" y="215.20" font-size="6.05" fill="#ff1010" stroke="#ff1010" stroke-width="0.072" transform="rotate(-90 188.88 215.20)">K425_459</text>
<text x="194.88" y="215.20" font-size="6.05" fill="#ff1010" stroke="#ff1010" stroke-width="0.072" transform="rotate(-90 194.88 215.20)">HzNVorf9_2</text>
<text x="211.98" y="215.20" font-size="6.05" fill="#ff1010" stroke="#ff1010" stroke-width="0.072" transform="rotate(-90 211.98 215.20)">HzNVorf106</text>
<text x="278.68" y="220.39" font-size="6.05" fill="#ff1010" stroke="#ff1010" stroke-width="0.072" transform="rotate(-90 278.68 220.39)">K425_461</text>
<line x1="276.80" y1="221.19" x2="292.30" y2="221.40" stroke="#ff3030" stroke-width="0.45"/>
<text x="284.38" y="213.12" font-size="6.05" fill="#ff1010" stroke="#ff1010" stroke-width="0.072" transform="rotate(-90 284.38 213.12)">35a_2</text>
<line x1="282.50" y1="213.92" x2="297.90" y2="221.40" stroke="#ff3030" stroke-width="0.45"/>
<text x="290.48" y="211.96" font-size="6.05" fill="#ff1010" stroke="#ff1010" stroke-width="0.072" transform="rotate(-90 290.48 211.96)">38K</text>
<line x1="288.60" y1="212.76" x2="303.50" y2="221.40" stroke="#ff3030" stroke-width="0.45"/>
<text x="297.08" y="208.85" font-size="6.05" fill="#ff1010" stroke="#ff1010" stroke-width="0.072" transform="rotate(-90 297.08 208.85)">HzNVorf94</text>
<line x1="295.20" y1="209.65" x2="308.40" y2="221.40" stroke="#ff3030" stroke-width="0.45"/>
<text x="302.88" y="208.49" font-size="6.05" fill="#ff1010" stroke="#ff1010" stroke-width="0.072" transform="rotate(-90 302.88 208.49)">K425_445</text>
<line x1="301.00" y1="209.29" x2="312.10" y2="221.40" stroke="#ff3030" stroke-width="0.45"/>
<text x="307.58" y="208.09" font-size="6.05" fill="#ff1010" stroke="#ff1010" stroke-width="0.072" transform="rotate(-90 307.58 208.09)">p47</text>
<line x1="305.70" y1="208.89" x2="316.00" y2="221.40" stroke="#ff3030" stroke-width="0.45"/>
<text x="314.08" y="210.02" font-size="6.05" fill="#ff1010" stroke="#ff1010" stroke-width="0.072" transform="rotate(-90 314.08 210.02)">HzNVorf9_1</text>
<line x1="312.20" y1="210.82" x2="318.50" y2="221.40" stroke="#ff3030" stroke-width="0.45"/>
<text x="319.88" y="210.03" font-size="6.05" fill="#ff1010" stroke="#ff1010" stroke-width="0.072" transform="rotate(-90 319.88 210.03)">PmNVorf87</text>
<line x1="318.00" y1="210.83" x2="321.00" y2="221.40" stroke="#ff3030" stroke-width="0.45"/>
<text x="325.48" y="206.69" font-size="6.05" fill="#ff1010" stroke="#ff1010" stroke-width="0.072" transform="rotate(-90 325.48 206.69)">p6_9_1</text>
<line x1="323.60" y1="207.49" x2="324.10" y2="221.40" stroke="#ff3030" stroke-width="0.45"/>
<text x="331.78" y="211.38" font-size="6.05" fill="#ff1010" stroke="#ff1010" stroke-width="0.072" transform="rotate(-90 331.78 211.38)">ToNVorf54_1</text>
<line x1="329.90" y1="212.18" x2="328.00" y2="221.40" stroke="#ff3030" stroke-width="0.45"/>
<text x="337.58" y="210.09" font-size="6.05" fill="#ff1010" stroke="#ff1010" stroke-width="0.072" transform="rotate(-90 337.58 210.09)">27b</text>
<line x1="335.70" y1="210.89" x2="334.90" y2="221.40" stroke="#ff3030" stroke-width="0.45"/>
<text x="342.28" y="210.52" font-size="6.05" fill="#ff1010" stroke="#ff1010" stroke-width="0.072" transform="rotate(-90 342.28 210.52)">vp39</text>
<line x1="340.40" y1="211.32" x2="338.90" y2="221.40" stroke="#ff3030" stroke-width="0.45"/>
<text x="347.78" y="209.75" font-size="6.05" fill="#ff1010" stroke="#ff1010" stroke-width="0.072" transform="rotate(-90 347.78 209.75)">pif3</text>
<line x1="345.90" y1="210.55" x2="346.90" y2="221.40" stroke="#ff3030" stroke-width="0.45"/>
<text x="354.18" y="210.51" font-size="6.05" fill="#ff1010" stroke="#ff1010" stroke-width="0.072" transform="rotate(-90 354.18 210.51)">PmV</text>
<line x1="352.30" y1="211.31" x2="349.30" y2="221.40" stroke="#ff3030" stroke-width="0.45"/>
<text x="359.78" y="215.65" font-size="6.05" fill="#ff1010" stroke="#ff1010" stroke-width="0.072" transform="rotate(-90 359.78 215.65)">ToNVorf29</text>
<line x1="357.90" y1="216.45" x2="354.90" y2="221.40" stroke="#ff3030" stroke-width="0.45"/>
<text x="365.58" y="219.19" font-size="6.05" fill="#ff1010" stroke="#ff1010" stroke-width="0.072" transform="rotate(-90 365.58 219.19)">K425_438</text>
<line x1="363.70" y1="219.99" x2="366.50" y2="221.40" stroke="#ff3030" stroke-width="0.45"/>
<text x="148.18" y="261.50" font-size="6.05" fill="#ff1010" stroke="#ff1010" stroke-width="0.072" text-anchor="end" transform="rotate(-90 148.18 261.50)">35a_1</text>
<line x1="152.20" y1="257.30" x2="146.30" y2="260.80" stroke="#ff3030" stroke-width="0.45"/>
<text x="156.08" y="261.50" font-size="6.05" fill="#ff1010" stroke="#ff1010" stroke-width="0.072" text-anchor="end" transform="rotate(-90 156.08 261.50)">int_1</text>
<line x1="157.30" y1="257.30" x2="154.20" y2="260.80" stroke="#ff3030" stroke-width="0.45"/>
<text x="161.88" y="261.50" font-size="6.05" fill="#ff1010" stroke="#ff1010" stroke-width="0.072" text-anchor="end" transform="rotate(-90 161.88 261.50)">ToNVorf54_2</text>
<line x1="161.40" y1="257.30" x2="160.00" y2="260.80" stroke="#ff3030" stroke-width="0.45"/>
<text x="169.58" y="261.50" font-size="6.05" fill="#ff1010" stroke="#ff1010" stroke-width="0.072" text-anchor="end" transform="rotate(-90 169.58 261.50)">K425_456</text>
<line x1="172.70" y1="257.30" x2="167.70" y2="260.80" stroke="#ff3030" stroke-width="0.45"/>
<text x="174.98" y="261.50" font-size="6.05" fill="#ff1010" stroke="#ff1010" stroke-width="0.072" text-anchor="end" transform="rotate(-90 174.98 261.50)">GbNVorf19</text>
<line x1="178.10" y1="257.30" x2="173.10" y2="260.80" stroke="#ff3030" stroke-width="0.45"/>
<text x="179.88" y="261.50" font-size="6.05" fill="#ff1010" stroke="#ff1010" stroke-width="0.072" text-anchor="end" transform="rotate(-90 179.88 261.50)">p6_9_2</text>
<line x1="180.40" y1="257.30" x2="178.00" y2="260.80" stroke="#ff3030" stroke-width="0.45"/>
<text x="186.08" y="261.50" font-size="6.05" fill="#ff1010" stroke="#ff1010" stroke-width="0.072" text-anchor="end" transform="rotate(-90 186.08 261.50)">K425_459</text>
<line x1="183.60" y1="257.30" x2="184.20" y2="260.80" stroke="#ff3030" stroke-width="0.45"/>
<text x="194.18" y="261.50" font-size="6.05" fill="#ff1010" stroke="#ff1010" stroke-width="0.072" text-anchor="end" transform="rotate(-90 194.18 261.50)">HzNVorf9_2</text>
<line x1="188.70" y1="257.30" x2="192.30" y2="260.80" stroke="#ff3030" stroke-width="0.45"/>
<text x="200.98" y="261.50" font-size="6.05" fill="#ff1010" stroke="#ff1010" stroke-width="0.072" text-anchor="end" transform="rotate(-90 200.98 261.50)">HzNVorf106</text>
<line x1="188.70" y1="257.30" x2="199.10" y2="260.80" stroke="#ff3030" stroke-width="0.45"/>
<text x="271.68" y="261.50" font-size="6.05" fill="#ff1010" stroke="#ff1010" stroke-width="0.072" text-anchor="end" transform="rotate(-90 271.68 261.50)">K425_461</text>
<line x1="269.50" y1="257.30" x2="269.80" y2="260.80" stroke="#ff3030" stroke-width="0.45"/>
<text x="278.28" y="261.50" font-size="6.05" fill="#ff1010" stroke="#ff1010" stroke-width="0.072" text-anchor="end" transform="rotate(-90 278.28 261.50)">35a_2</text>
<line x1="277.50" y1="257.30" x2="276.40" y2="260.80" stroke="#ff3030" stroke-width="0.45"/>
<text x="284.98" y="261.50" font-size="6.05" fill="#ff1010" stroke="#ff1010" stroke-width="0.072" text-anchor="end" transform="rotate(-90 284.98 261.50)">38K</text>
<line x1="284.30" y1="257.30" x2="283.10" y2="260.80" stroke="#ff3030" stroke-width="0.45"/>
<text x="290.68" y="261.50" font-size="6.05" fill="#ff1010" stroke="#ff1010" stroke-width="0.072" text-anchor="end" transform="rotate(-90 290.68 261.50)">HzNVorf94</text>
<line x1="289.90" y1="257.30" x2="288.80" y2="260.80" stroke="#ff3030" stroke-width="0.45"/>
<text x="297.28" y="261.50" font-size="6.05" fill="#ff1010" stroke="#ff1010" stroke-width="0.072" text-anchor="end" transform="rotate(-90 297.28 261.50)">K425_445</text>
<line x1="291.20" y1="257.30" x2="295.40" y2="260.80" stroke="#ff3030" stroke-width="0.45"/>
<text x="303.58" y="261.50" font-size="6.05" fill="#ff1010" stroke="#ff1010" stroke-width="0.072" text-anchor="end" transform="rotate(-90 303.58 261.50)">p47</text>
<line x1="297.10" y1="257.30" x2="301.70" y2="260.80" stroke="#ff3030" stroke-width="0.45"/>
<text x="309.28" y="261.50" font-size="6.05" fill="#ff1010" stroke="#ff1010" stroke-width="0.072" text-anchor="end" transform="rotate(-90 309.28 261.50)">HzNVorf9_1</text>
<line x1="303.50" y1="257.30" x2="307.40" y2="260.80" stroke="#ff3030" stroke-width="0.45"/>
<text x="315.68" y="261.50" font-size="6.05" fill="#ff1010" stroke="#ff1010" stroke-width="0.072" text-anchor="end" transform="rotate(-90 315.68 261.50)">PmNVorf87</text>
<line x1="306.50" y1="257.30" x2="313.80" y2="260.80" stroke="#ff3030" stroke-width="0.45"/>
<text x="321.98" y="261.50" font-size="6.05" fill="#ff1010" stroke="#ff1010" stroke-width="0.072" text-anchor="end" transform="rotate(-90 321.98 261.50)">ToNVorf54_1</text>
<line x1="308.00" y1="257.30" x2="320.10" y2="260.80" stroke="#ff3030" stroke-width="0.45"/>
<text x="328.58" y="261.50" font-size="6.05" fill="#ff1010" stroke="#ff1010" stroke-width="0.072" text-anchor="end" transform="rotate(-90 328.58 261.50)">27b</text>
<line x1="324.10" y1="257.30" x2="326.70" y2="260.80" stroke="#ff3030" stroke-width="0.45"/>
<text x="334.88" y="261.50" font-size="6.05" fill="#ff1010" stroke="#ff1010" stroke-width="0.072" text-anchor="end" transform="rotate(-90 334.88 261.50)">vp39</text>
<line x1="326.50" y1="257.30" x2="333.00" y2="260.80" stroke="#ff3030" stroke-width="0.45"/>
<text x="342.78" y="261.50" font-size="6.05" fill="#ff1010" stroke="#ff1010" stroke-width="0.072" text-anchor="end" transform="rotate(-90 342.78 261.50)">pif3</text>
<line x1="332.10" y1="257.30" x2="340.90" y2="260.80" stroke="#ff3030" stroke-width="0.45"/>
<text x="354.18" y="261.50" font-size="6.05" fill="#ff1010" stroke="#ff1010" stroke-width="0.072" text-anchor="end" transform="rotate(-90 354.18 261.50)">PmV</text>
<line x1="351.70" y1="257.30" x2="352.30" y2="260.80" stroke="#ff3030" stroke-width="0.45"/>
<text x="374.18" y="261.50" font-size="6.05" fill="#ff1010" stroke="#ff1010" stroke-width="0.072" text-anchor="end" transform="rotate(-90 374.18 261.50)">ToNVorf29</text>
<line x1="371.80" y1="257.30" x2="372.30" y2="260.80" stroke="#ff3030" stroke-width="0.45"/>
<text x="382.08" y="261.50" font-size="6.05" fill="#ff1010" stroke="#ff1010" stroke-width="0.072" text-anchor="end" transform="rotate(-90 382.08 261.50)">K425_438</text>
<line x1="371.80" y1="257.30" x2="380.20" y2="260.80" stroke="#ff3030" stroke-width="0.45"/>
<line x1="54.00" y1="306.10" x2="615.00" y2="306.10" stroke="#555" stroke-width="0.8"/>
<line x1="54.00" y1="306.10" x2="54.00" y2="308.10" stroke="#555" stroke-width="0.6"/>
<text x="54.00" y="313.40" font-size="5.0" fill="#000" stroke="#000" stroke-width="0.18" text-anchor="middle">0</text>
<line x1="110.10" y1="306.10" x2="110.10" y2="308.10" stroke="#555" stroke-width="0.6"/>
<text x="110.10" y="313.40" font-size="5.0" fill="#000" stroke="#000" stroke-width="0.18" text-anchor="middle">20,000</text>
<line x1="166.20" y1="306.10" x2="166.20" y2="308.10" stroke="#555" stroke-width="0.6"/>
<text x="166.20" y="313.40" font-size="5.0" fill="#000" stroke="#000" stroke-width="0.18" text-anchor="middle">40,000</text>
<line x1="222.30" y1="306.10" x2="222.30" y2="308.10" stroke="#555" stroke-width="0.6"/>
<text x="222.30" y="313.40" font-size="5.0" fill="#000" stroke="#000" stroke-width="0.18" text-anchor="middle">60,000</text>
<line x1="278.40" y1="306.10" x2="278.40" y2="308.10" stroke="#555" stroke-width="0.6"/>
<text x="278.40" y="313.40" font-size="5.0" fill="#000" stroke="#000" stroke-width="0.18" text-anchor="middle">80,000</text>
<line x1="334.50" y1="306.10" x2="334.50" y2="308.10" stroke="#555" stroke-width="0.6"/>
<text x="334.50" y="313.40" font-size="5.0" fill="#000" stroke="#000" stroke-width="0.18" text-anchor="middle">100,000</text>
<line x1="390.60" y1="306.10" x2="390.60" y2="308.10" stroke="#555" stroke-width="0.6"/>
<text x="390.60" y="313.40" font-size="5.0" fill="#000" stroke="#000" stroke-width="0.18" text-anchor="middle">120,000</text>
<line x1="446.70" y1="306.10" x2="446.70" y2="308.10" stroke="#555" stroke-width="0.6"/>
<text x="446.70" y="313.40" font-size="5.0" fill="#000" stroke="#000" stroke-width="0.18" text-anchor="middle">140,000</text>
<line x1="502.80" y1="306.10" x2="502.80" y2="308.10" stroke="#555" stroke-width="0.6"/>
<text x="502.80" y="313.40" font-size="5.0" fill="#000" stroke="#000" stroke-width="0.18" text-anchor="middle">160,000</text>
<line x1="558.90" y1="306.10" x2="558.90" y2="308.10" stroke="#555" stroke-width="0.6"/>
<text x="558.90" y="313.40" font-size="5.0" fill="#000" stroke="#000" stroke-width="0.18" text-anchor="middle">180,000</text>
<line x1="615.00" y1="306.10" x2="615.00" y2="308.10" stroke="#555" stroke-width="0.6"/>
<text x="615.00" y="313.40" font-size="5.0" fill="#000" stroke="#000" stroke-width="0.18" text-anchor="middle">200,000</text>
<text x="632.50" y="313.40" font-size="5.0" fill="#000" stroke="#000" stroke-width="0.18" text-anchor="middle">(pb)</text>
<rect x="334.20" y="362.30" width="7.00" height="7.00" fill="#fff" stroke="#222" stroke-width="0.7"/>
<text x="337.70" y="368.18" font-size="5.775" fill="#000" stroke="#000" stroke-width="0.18" text-anchor="middle">4</text>
<text x="346.90" y="372.46" font-size="6.0" fill="#000" stroke="#000" stroke-width="0.18">C6</text>
<text x="333.00" y="388.56" font-size="6.0" fill="#000" stroke="#000" stroke-width="0.18">3,743,933</text>
<text x="330.50" y="407.96" font-size="6.0" fill="#000" stroke="#000" stroke-width="0.18">NW_014464050.1 (rev)</text>
<text x="341.20" y="418.56" font-size="6.0" fill="#000" stroke="#000" stroke-width="0.18">1,641,795</text>
<text x="648.00" y="384.66" font-size="6.0" fill="#000" stroke="#000" stroke-width="0.18">3,803,933</text>
<text x="648.00" y="418.16" font-size="6.0" fill="#000" stroke="#000" stroke-width="0.18">1,581,795</text>
<polygon points="354.30,378.90 380.90,378.90 490.00,409.50 483.00,409.50" fill="#d3d3d3"/>
<polygon points="467.70,378.90 523.50,378.90 571.40,409.50 539.90,409.50" fill="#d3d3d3"/>
<polygon points="536.00,378.90 547.90,378.90 585.60,409.50 572.70,409.50" fill="#d3d3d3"/>
<polygon points="549.00,378.90 556.00,378.90 598.40,409.50 586.00,409.50" fill="#d3d3d3" fill-opacity="0.8"/>
<polygon points="555.30,378.90 558.50,378.90 628.60,409.50 621.10,409.50" fill="#d3d3d3" fill-opacity="0.7"/>
<line x1="381.00" y1="378.90" x2="491.00" y2="409.50" stroke="#fff" stroke-width="0.6"/>
<line x1="512.00" y1="378.90" x2="572.00" y2="409.50" stroke="#fff" stroke-width="0.5"/>
<polygon points="580.90,378.70 590.80,378.70 610.00,409.70 601.40,409.70" fill="#ff1a1a" fill-opacity="0.45"/>
<polygon points="608.20,378.70 614.60,378.70 612.00,409.70 604.00,409.70" fill="#ff1a1a" fill-opacity="0.405"/>
<polygon points="616.30,378.70 624.70,378.70 615.80,409.70 608.00,409.70" fill="#ff1a1a" fill-opacity="0.405"/>
<line x1="351.80" y1="377.70" x2="660.80" y2="377.70" stroke="#000" stroke-width="2.0"/>
<rect x="354.30" y="376.20" width="26.60" height="3.00" fill="#fff" stroke="#888" stroke-width="0.5"/>
<rect x="389.00" y="376.20" width="1.50" height="3.00" fill="#fff" stroke="#888" stroke-width="0.5"/>
<rect x="467.70" y="376.20" width="42.90" height="3.00" fill="#fff" stroke="#888" stroke-width="0.5"/>
<rect x="511.90" y="376.20" width="11.60" height="3.00" fill="#fff" stroke="#888" stroke-width="0.5"/>
<rect x="536.00" y="376.20" width="11.90" height="3.00" fill="#fff" stroke="#888" stroke-width="0.5"/>
<rect x="555.30" y="376.20" width="3.20" height="3.00" fill="#fff" stroke="#888" stroke-width="0.5"/>
<line x1="351.80" y1="410.70" x2="660.80" y2="410.70" stroke="#666666" stroke-width="1.8"/>
<rect x="456.80" y="409.20" width="6.00" height="3.00" fill="#fff" stroke="#888" stroke-width="0.5"/>
<rect x="470.90" y="409.20" width="14.90" height="3.00" fill="#fff" stroke="#888" stroke-width="0.5"/>
<rect x="490.00" y="409.20" width="2.00" height="3.00" fill="#fff" stroke="#888" stroke-width="0.5"/>
<rect x="539.90" y="409.20" width="31.50" height="3.00" fill="#fff" stroke="#888" stroke-width="0.5"/>
<rect x="572.70" y="409.20" width="12.90" height="3.00" fill="#fff" stroke="#888" stroke-width="0.5"/>
<rect x="589.60" y="409.20" width="9.10" height="3.00" fill="#fff" stroke="#888" stroke-width="0.5"/>
<rect x="621.10" y="409.20" width="7.50" height="3.00" fill="#fff" stroke="#888" stroke-width="0.5"/>
<rect x="580.90" y="376.40" width="9.90" height="2.60" fill="#e00000"/>
<rect x="581.55" y="376.80" width="0.70" height="1.80" fill="#300" fill-opacity="0.8"/>
<rect x="583.35" y="376.80" width="0.70" height="1.80" fill="#300" fill-opacity="0.8"/>
<rect x="585.15" y="376.80" width="0.70" height="1.80" fill="#300" fill-opacity="0.8"/>
<rect x="586.95" y="376.80" width="0.70" height="1.80" fill="#300" fill-opacity="0.8"/>
<rect x="588.75" y="376.80" width="0.70" height="1.80" fill="#300" fill-opacity="0.8"/>
<rect x="608.20" y="376.40" width="6.40" height="2.60" fill="#e00000"/>
<rect x="608.85" y="376.80" width="0.70" height="1.80" fill="#300" fill-opacity="0.8"/>
<rect x="610.65" y="376.80" width="0.70" height="1.80" fill="#300" fill-opacity="0.8"/>
<rect x="612.45" y="376.80" width="0.70" height="1.80" fill="#300" fill-opacity="0.8"/>
<rect x="616.30" y="376.40" width="8.40" height="2.60" fill="#e00000"/>
<rect x="616.95" y="376.80" width="0.70" height="1.80" fill="#300" fill-opacity="0.8"/>
<rect x="618.75" y="376.80" width="0.70" height="1.80" fill="#300" fill-opacity="0.8"/>
<rect x="620.55" y="376.80" width="0.70" height="1.80" fill="#300" fill-opacity="0.8"/>
<rect x="622.35" y="376.80" width="0.70" height="1.80" fill="#300" fill-opacity="0.8"/>
<rect x="601.40" y="409.40" width="14.40" height="2.60" fill="#e00000"/>
<rect x="602.05" y="409.80" width="0.70" height="1.80" fill="#300" fill-opacity="0.8"/>
<rect x="603.85" y="409.80" width="0.70" height="1.80" fill="#300" fill-opacity="0.8"/>
<rect x="605.65" y="409.80" width="0.70" height="1.80" fill="#300" fill-opacity="0.8"/>
<rect x="607.45" y="409.80" width="0.70" height="1.80" fill="#300" fill-opacity="0.8"/>
<rect x="609.25" y="409.80" width="0.70" height="1.80" fill="#300" fill-opacity="0.8"/>
<rect x="611.05" y="409.80" width="0.70" height="1.80" fill="#300" fill-opacity="0.8"/>
<rect x="612.85" y="409.80" width="0.70" height="1.80" fill="#300" fill-opacity="0.8"/>
<rect x="614.65" y="409.80" width="0.70" height="1.80" fill="#300" fill-opacity="0.8"/>
<text x="554.80" y="370.69" font-size="5.8" fill="#ff0000" stroke="#ff0000" stroke-width="0.072">odv-e66_6</text>
<text x="585.80" y="370.69" font-size="5.8" fill="#ff0000" stroke="#ff0000" stroke-width="0.072">7</text>
<text x="609.90" y="370.69" font-size="5.8" fill="#ff0000" stroke="#ff0000" stroke-width="0.072">8</text>
<text x="619.40" y="370.69" font-size="5.8" fill="#ff0000" stroke="#ff0000" stroke-width="0.072">9</text>
<text x="583.40" y="419.59" font-size="5.8" fill="#ff0000" stroke="#ff0000" stroke-width="0.072">odv-e66_3</text>
<rect x="334.20" y="432.40" width="7.00" height="7.00" fill="#fff" stroke="#222" stroke-width="0.7"/>
<text x="337.70" y="438.28" font-size="5.775" fill="#000" stroke="#000" stroke-width="0.18" text-anchor="middle">5</text>
<text x="346.90" y="450.76" font-size="6.0" fill="#000" stroke="#000" stroke-width="0.18">C8</text>
<text x="341.70" y="462.16" font-size="6.0" fill="#000" stroke="#000" stroke-width="0.18">9,833,659</text>
<text x="327.60" y="484.96" font-size="6.0" fill="#000" stroke="#000" stroke-width="0.18">NW_014465001.1 (rev)</text>
<text x="341.70" y="494.86" font-size="6.0" fill="#000" stroke="#000" stroke-width="0.18">556,848</text>
<text x="649.80" y="462.66" font-size="6.0" fill="#000" stroke="#000" stroke-width="0.18">9,893,659</text>
<text x="647.30" y="495.56" font-size="6.0" fill="#000" stroke="#000" stroke-width="0.18">496,848</text>
<polygon points="478.00,456.20 516.50,456.20 457.30,486.70 388.60,486.70 429.00,476.60" fill="#d3d3d3"/>
<polygon points="505.00,456.20 516.50,456.20 440.00,478.00 433.00,478.00" fill="#c8c8c8" fill-opacity="0.5"/>
<polygon points="546.90,456.00 554.70,456.00 533.40,486.90 525.90,486.90" fill="#ff1a1a" fill-opacity="0.45"/>
<polygon points="554.70,456.00 564.00,456.00 554.70,486.90 548.50,486.90" fill="#ff1a1a" fill-opacity="0.405"/>
<polygon points="564.00,456.00 573.60,456.00 556.30,486.90 550.00,486.90" fill="#ff1a1a" fill-opacity="0.405"/>
<polygon points="573.60,456.00 580.50,456.00 568.90,486.90 561.00,486.90" fill="#ff1a1a" fill-opacity="0.405"/>
<polygon points="584.60,456.00 592.40,456.00 564.00,486.90 553.00,486.90" fill="#ff1a1a" fill-opacity="0.405"/>
<polygon points="595.50,456.00 599.30,456.00 620.70,486.90 616.00,486.90" fill="#ff1a1a" fill-opacity="0.45"/>
<line x1="349.90" y1="455.00" x2="661.50" y2="455.00" stroke="#000" stroke-width="2.0"/>
<rect x="477.80" y="453.50" width="39.30" height="3.00" fill="#fff" stroke="#888" stroke-width="0.5"/>
<rect x="517.10" y="453.50" width="3.70" height="3.00" fill="#fff" stroke="#888" stroke-width="0.5"/>
<rect x="527.40" y="453.50" width="4.70" height="3.00" fill="#fff" stroke="#888" stroke-width="0.5"/>
<rect x="543.80" y="453.50" width="1.20" height="3.00" fill="#fff" stroke="#888" stroke-width="0.5"/>
<line x1="349.90" y1="487.90" x2="661.50" y2="487.90" stroke="#666666" stroke-width="1.8"/>
<rect x="388.80" y="486.40" width="17.40" height="3.00" fill="#fff" stroke="#888" stroke-width="0.5"/>
<rect x="406.90" y="486.40" width="50.10" height="3.00" fill="#fff" stroke="#888" stroke-width="0.5"/>
<rect x="583.90" y="486.40" width="15.40" height="3.00" fill="#fff" stroke="#888" stroke-width="0.5"/>
<rect x="546.90" y="453.70" width="33.60" height="2.60" fill="#e00000"/>
<rect x="547.55" y="454.10" width="0.70" height="1.80" fill="#300" fill-opacity="0.8"/>
<rect x="549.35" y="454.10" width="0.70" height="1.80" fill="#300" fill-opacity="0.8"/>
<rect x="551.15" y="454.10" width="0.70" height="1.80" fill="#300" fill-opacity="0.8"/>
<rect x="552.95" y="454.10" width="0.70" height="1.80" fill="#300" fill-opacity="0.8"/>
<rect x="554.75" y="454.10" width="0.70" height="1.80" fill="#300" fill-opacity="0.8"/>
<rect x="556.55" y="454.10" width="0.70" height="1.80" fill="#300" fill-opacity="0.8"/>
<rect x="558.35" y="454.10" width="0.70" height="1.80" fill="#300" fill-opacity="0.8"/>
<rect x="560.15" y="454.10" width="0.70" height="1.80" fill="#300" fill-opacity="0.8"/>
<rect x="561.95" y="454.10" width="0.70" height="1.80" fill="#300" fill-opacity="0.8"/>
<rect x="563.75" y="454.10" width="0.70" height="1.80" fill="#300" fill-opacity="0.8"/>
<rect x="565.55" y="454.10" width="0.70" height="1.80" fill="#300" fill-opacity="0.8"/>
<rect x="567.35" y="454.10" width="0.70" height="1.80" fill="#300" fill-opacity="0.8"/>
<rect x="569.15" y="454.10" width="0.70" height="1.80" fill="#300" fill-opacity="0.8"/>
<rect x="570.95" y="454.10" width="0.70" height="1.80" fill="#300" fill-opacity="0.8"/>
<rect x="572.75" y="454.10" width="0.70" height="1.80" fill="#300" fill-opacity="0.8"/>
<rect x="574.55" y="454.10" width="0.70" height="1.80" fill="#300" fill-opacity="0.8"/>
<rect x="576.35" y="454.10" width="0.70" height="1.80" fill="#300" fill-opacity="0.8"/>
<rect x="578.15" y="454.10" width="0.70" height="1.80" fill="#300" fill-opacity="0.8"/>
<rect x="584.60" y="453.70" width="7.80" height="2.60" fill="#e00000"/>
<rect x="585.25" y="454.10" width="0.70" height="1.80" fill="#300" fill-opacity="0.8"/>
<rect x="587.05" y="454.10" width="0.70" height="1.80" fill="#300" fill-opacity="0.8"/>
<rect x="588.85" y="454.10" width="0.70" height="1.80" fill="#300" fill-opacity="0.8"/>
<rect x="590.65" y="454.10" width="0.70" height="1.80" fill="#300" fill-opacity="0.8"/>
<rect x="595.50" y="453.70" width="3.80" height="2.60" fill="#e00000"/>
<rect x="596.15" y="454.10" width="0.70" height="1.80" fill="#300" fill-opacity="0.8"/>
<rect x="597.95" y="454.10" width="0.70" height="1.80" fill="#300" fill-opacity="0.8"/>
<rect x="525.90" y="486.60" width="7.50" height="2.60" fill="#e00000"/>
<rect x="526.55" y="487.00" width="0.70" height="1.80" fill="#300" fill-opacity="0.8"/>
<rect x="528.35" y="487.00" width="0.70" height="1.80" fill="#300" fill-opacity="0.8"/>
<rect x="530.15" y="487.00" width="0.70" height="1.80" fill="#300" fill-opacity="0.8"/>
<rect x="531.95" y="487.00" width="0.70" height="1.80" fill="#300" fill-opacity="0.8"/>
<rect x="548.50" y="486.60" width="7.80" height="2.60" fill="#e00000"/>
<rect x="549.15" y="487.00" width="0.70" height="1.80" fill="#300" fill-opacity="0.8"/>
<rect x="550.95" y="487.00" width="0.70" height="1.80" fill="#300" fill-opacity="0.8"/>
<rect x="552.75" y="487.00" width="0.70" height="1.80" fill="#300" fill-opacity="0.8"/>
<rect x="554.55" y="487.00" width="0.70" height="1.80" fill="#300" fill-opacity="0.8"/>
<rect x="561.00" y="486.60" width="7.90" height="2.60" fill="#e00000"/>
<rect x="561.65" y="487.00" width="0.70" height="1.80" fill="#300" fill-opacity="0.8"/>
<rect x="563.45" y="487.00" width="0.70" height="1.80" fill="#300" fill-opacity="0.8"/>
<rect x="565.25" y="487.00" width="0.70" height="1.80" fill="#300" fill-opacity="0.8"/>
<rect x="567.05" y="487.00" width="0.70" height="1.80" fill="#300" fill-opacity="0.8"/>
<rect x="616.00" y="486.60" width="4.70" height="2.60" fill="#e00000"/>
<rect x="616.65" y="487.00" width="0.70" height="1.80" fill="#300" fill-opacity="0.8"/>
<rect x="618.45" y="487.00" width="0.70" height="1.80" fill="#300" fill-opacity="0.8"/>
<text x="521.20" y="449.09" font-size="5.8" fill="#ff0000" stroke="#ff0000" stroke-width="0.072">odv-e66_15</text>
<text x="556.30" y="449.09" font-size="5.8" fill="#ff0000" stroke="#ff0000" stroke-width="0.072">16/17/18</text>
<text x="584.60" y="449.09" font-size="5.8" fill="#ff0000" stroke="#ff0000" stroke-width="0.072">19</text>
<text x="595.50" y="449.09" font-size="5.8" fill="#ff0000" stroke="#ff0000" stroke-width="0.072">20</text>
<text x="508.60" y="495.49" font-size="5.8" fill="#ff0000" stroke="#ff0000" stroke-width="0.072">odv-e66_5</text>
<text x="551.50" y="495.49" font-size="5.8" fill="#ff0000" stroke="#ff0000" stroke-width="0.072" text-anchor="middle">6</text>
<text x="564.00" y="495.49" font-size="5.8" fill="#ff0000" stroke="#ff0000" stroke-width="0.072" text-anchor="middle">7</text>
<text x="617.50" y="495.49" font-size="5.8" fill="#ff0000" stroke="#ff0000" stroke-width="0.072" text-anchor="middle">8</text>
<line x1="348.40" y1="510.00" x2="660.70" y2="510.00" stroke="#555" stroke-width="0.8"/>
<line x1="348.40" y1="510.00" x2="348.40" y2="512.00" stroke="#555" stroke-width="0.6"/>
<text x="348.40" y="520.50" font-size="5.0" fill="#000" stroke="#000" stroke-width="0.18" text-anchor="middle">0</text>
<line x1="452.50" y1="510.00" x2="452.50" y2="512.00" stroke="#555" stroke-width="0.6"/>
<text x="452.50" y="520.50" font-size="5.0" fill="#000" stroke="#000" stroke-width="0.18" text-anchor="middle">20,000</text>
<line x1="556.60" y1="510.00" x2="556.60" y2="512.00" stroke="#555" stroke-width="0.6"/>
<text x="556.60" y="520.50" font-size="5.0" fill="#000" stroke="#000" stroke-width="0.18" text-anchor="middle">40,000</text>
<line x1="660.70" y1="510.00" x2="660.70" y2="512.00" stroke="#555" stroke-width="0.6"/>
<text x="660.70" y="520.50" font-size="5.0" fill="#000" stroke="#000" stroke-width="0.18" text-anchor="middle">60,000</text>
<text x="676.40" y="520.50" font-size="5.0" fill="#000" stroke="#000" stroke-width="0.18" text-anchor="middle">(pb)</text>
<rect x="329.90" y="570.30" width="17.40" height="9.40" fill="#fff" stroke="#222" stroke-width="0.7"/>
<text x="338.60" y="577.49" font-size="6.09" fill="#000" stroke="#000" stroke-width="0.18" text-anchor="middle">PL9</text>
<text x="360.20" y="580.16" font-size="6.0" fill="#000" stroke="#000" stroke-width="0.18">C9</text>
<text x="355.50" y="592.56" font-size="6.0" fill="#000" stroke="#000" stroke-width="0.18">11,963,357</text>
<text x="341.10" y="613.36" font-size="6.0" fill="#000" stroke="#000" stroke-width="0.18">NW_014463943.1</text>
<text x="356.70" y="624.06" font-size="6.0" fill="#000" stroke="#000" stroke-width="0.18">814,636</text>
<text x="636.40" y="591.06" font-size="6.0" fill="#000" stroke="#000" stroke-width="0.18">12,263,357</text>
<text x="639.50" y="624.06" font-size="6.0" fill="#000" stroke="#000" stroke-width="0.18">1,114,636</text>
<polygon points="470.10,585.30 474.60,585.30 459.70,615.70 455.20,615.70" fill="#d3d3d3"/>
<polygon points="497.00,585.30 503.50,585.30 510.80,615.70 505.20,615.70" fill="#d3d3d3"/>
<polygon points="537.50,585.30 543.00,585.30 573.60,615.70 563.00,615.70" fill="#d3d3d3" fill-opacity="0.7"/>
<polygon points="543.50,585.30 550.00,585.30 566.00,615.70 558.00,615.70" fill="#d3d3d3" fill-opacity="0.7"/>
<polygon points="551.00,585.30 561.00,585.30 548.50,615.70 536.00,615.70" fill="#d3d3d3" fill-opacity="0.7"/>
<polygon points="555.00,585.30 560.00,585.30 571.00,615.70 566.00,615.70" fill="#d3d3d3" fill-opacity="0.7"/>
<line x1="365.40" y1="584.10" x2="645.10" y2="584.10" stroke="#000" stroke-width="2.0"/>
<rect x="365.40" y="582.60" width="2.00" height="3.00" fill="#fff" stroke="#888" stroke-width="0.5"/>
<rect x="368.60" y="582.60" width="2.00" height="3.00" fill="#fff" stroke="#888" stroke-width="0.5"/>
<rect x="377.60" y="582.60" width="2.00" height="3.00" fill="#fff" stroke="#888" stroke-width="0.5"/>
<rect x="390.00" y="582.60" width="2.00" height="3.00" fill="#fff" stroke="#888" stroke-width="0.5"/>
<rect x="470.10" y="582.60" width="4.50" height="3.00" fill="#fff" stroke="#888" stroke-width="0.5"/>
<rect x="519.20" y="582.60" width="2.00" height="3.00" fill="#fff" stroke="#888" stroke-width="0.5"/>
<rect x="527.70" y="582.60" width="2.00" height="3.00" fill="#fff" stroke="#888" stroke-width="0.5"/>
<rect x="535.00" y="582.60" width="5.00" height="3.00" fill="#fff" stroke="#888" stroke-width="0.5"/>
<rect x="543.80" y="582.60" width="6.20" height="3.00" fill="#fff" stroke="#888" stroke-width="0.5"/>
<rect x="552.20" y="582.60" width="8.80" height="3.00" fill="#fff" stroke="#888" stroke-width="0.5"/>
<rect x="564.20" y="582.60" width="3.80" height="3.00" fill="#fff" stroke="#888" stroke-width="0.5"/>
<rect x="578.30" y="582.60" width="3.10" height="3.00" fill="#fff" stroke="#888" stroke-width="0.5"/>
<rect x="589.30" y="582.60" width="4.70" height="3.00" fill="#fff" stroke="#888" stroke-width="0.5"/>
<rect x="603.40" y="582.60" width="6.30" height="3.00" fill="#fff" stroke="#888" stroke-width="0.5"/>
<rect x="634.70" y="582.60" width="2.00" height="3.00" fill="#fff" stroke="#888" stroke-width="0.5"/>
<line x1="365.40" y1="616.90" x2="645.10" y2="616.90" stroke="#666666" stroke-width="1.8"/>
<rect x="455.20" y="615.40" width="4.50" height="3.00" fill="#fff" stroke="#888" stroke-width="0.5"/>
<rect x="484.10" y="615.40" width="15.70" height="3.00" fill="#fff" stroke="#888" stroke-width="0.5"/>
<rect x="505.20" y="615.40" width="6.20" height="3.00" fill="#fff" stroke="#888" stroke-width="0.5"/>
<rect x="516.50" y="615.40" width="2.80" height="3.00" fill="#fff" stroke="#888" stroke-width="0.5"/>
<rect x="526.50" y="615.40" width="6.30" height="3.00" fill="#fff" stroke="#888" stroke-width="0.5"/>
<rect x="535.90" y="615.40" width="15.10" height="3.00" fill="#fff" stroke="#888" stroke-width="0.5"/>
<rect x="553.80" y="615.40" width="5.70" height="3.00" fill="#fff" stroke="#888" stroke-width="0.5"/>
<rect x="563.50" y="615.40" width="2.20" height="3.00" fill="#fff" stroke="#888" stroke-width="0.5"/>
<rect x="568.00" y="615.40" width="5.60" height="3.00" fill="#fff" stroke="#888" stroke-width="0.5"/>
<rect x="576.10" y="615.40" width="8.50" height="3.00" fill="#fff" stroke="#888" stroke-width="0.5"/>
<rect x="598.70" y="615.40" width="22.00" height="3.00" fill="#fff" stroke="#888" stroke-width="0.5"/>
<rect x="630.70" y="615.40" width="11.30" height="3.00" fill="#fff" stroke="#888" stroke-width="0.5"/>
<rect x="498.20" y="581.25" width="11.70" height="5.70" fill="#0000ff" fill-opacity="0.6"/>
<rect x="499.30" y="582.90" width="0.80" height="2.40" fill="#000044" fill-opacity="0.7"/>
<rect x="503.25" y="582.90" width="0.80" height="2.40" fill="#000044" fill-opacity="0.7"/>
<rect x="508.43" y="582.90" width="0.80" height="2.40" fill="#000044" fill-opacity="0.7"/>
<text x="503.70" y="568.83" font-size="6.2" fill="#1a1aff" stroke="#1a1aff" stroke-width="0.18" text-anchor="middle" font-weight="bold">PL9</text>
<text x="499.10" y="576.03" font-size="6.2" fill="#1a1aff" stroke="#1a1aff" stroke-width="0.18" text-anchor="middle">21</text>
<text x="508.30" y="576.03" font-size="6.2" fill="#1a1aff" stroke="#1a1aff" stroke-width="0.18" text-anchor="middle">8</text>
<text x="523.40" y="625.33" font-size="6.2" fill="#1a1aff" stroke="#1a1aff" stroke-width="0.18" text-anchor="middle">Ø</text>
<rect x="329.90" y="639.40" width="17.40" height="8.70" fill="#fff" stroke="#222" stroke-width="0.7"/>
<text x="338.60" y="646.24" font-size="6.09" fill="#000" stroke="#000" stroke-width="0.18" text-anchor="middle">PL6</text>
<text x="359.70" y="650.96" font-size="6.0" fill="#000" stroke="#000" stroke-width="0.18">C10</text>
<text x="355.50" y="662.36" font-size="6.0" fill="#000" stroke="#000" stroke-width="0.18">3,584,728</text>
<text x="344.10" y="683.46" font-size="6.0" fill="#000" stroke="#000" stroke-width="0.18">NW_014463818.1</text>
<text x="356.00" y="694.16" font-size="6.0" fill="#000" stroke="#000" stroke-width="0.18">1,744,388</text>
<text x="635.10" y="662.36" font-size="6.0" fill="#000" stroke="#000" stroke-width="0.18">3,884,728</text>
<text x="636.40" y="694.56" font-size="6.0" fill="#000" stroke="#000" stroke-width="0.18">2,044,388</text>
<polygon points="391.40,655.90 398.90,655.90 443.00,686.30 436.00,686.30" fill="#d3d3d3" fill-opacity="0.85"/>
<polygon points="401.00,655.90 413.30,655.90 458.80,686.30 443.00,686.30" fill="#d3d3d3" fill-opacity="0.85"/>
<polygon points="421.50,655.90 429.00,655.90 469.30,686.30 457.00,686.30" fill="#d3d3d3" fill-opacity="0.85"/>
<polygon points="430.80,655.90 458.00,655.90 477.00,686.30 464.00,686.30" fill="#d3d3d3" fill-opacity="0.85"/>
<polygon points="584.80,655.90 588.10,655.90 556.00,686.30 552.60,686.30" fill="#d3d3d3" fill-opacity="0.6"/>
<polygon points="589.10,655.90 597.30,655.90 575.60,686.30 560.00,686.30" fill="#d3d3d3" fill-opacity="0.6"/>
<line x1="364.70" y1="654.70" x2="645.00" y2="654.70" stroke="#000" stroke-width="2.0"/>
<rect x="391.40" y="653.20" width="7.50" height="3.00" fill="#fff" stroke="#888" stroke-width="0.5"/>
<rect x="401.00" y="653.20" width="12.30" height="3.00" fill="#fff" stroke="#888" stroke-width="0.5"/>
<rect x="421.50" y="653.20" width="7.50" height="3.00" fill="#fff" stroke="#888" stroke-width="0.5"/>
<rect x="430.80" y="653.20" width="4.90" height="3.00" fill="#fff" stroke="#888" stroke-width="0.5"/>
<rect x="435.70" y="653.20" width="17.90" height="3.00" fill="#fff" stroke="#888" stroke-width="0.5"/>
<rect x="456.20" y="653.20" width="1.80" height="3.00" fill="#fff" stroke="#888" stroke-width="0.5"/>
<rect x="559.20" y="653.20" width="2.00" height="3.00" fill="#fff" stroke="#888" stroke-width="0.5"/>
<rect x="569.00" y="653.20" width="2.00" height="3.00" fill="#fff" stroke="#888" stroke-width="0.5"/>
<rect x="576.60" y="653.20" width="3.40" height="3.00" fill="#fff" stroke="#888" stroke-width="0.5"/>
<rect x="584.80" y="653.20" width="3.30" height="3.00" fill="#fff" stroke="#888" stroke-width="0.5"/>
<rect x="589.10" y="653.20" width="8.20" height="3.00" fill="#fff" stroke="#888" stroke-width="0.5"/>
<rect x="606.20" y="653.20" width="4.30" height="3.00" fill="#fff" stroke="#888" stroke-width="0.5"/>
<rect x="616.00" y="653.20" width="5.00" height="3.00" fill="#fff" stroke="#888" stroke-width="0.5"/>
<rect x="630.50" y="653.20" width="2.00" height="3.00" fill="#fff" stroke="#888" stroke-width="0.5"/>
<line x1="364.70" y1="687.50" x2="645.00" y2="687.50" stroke="#666666" stroke-width="1.8"/>
<rect x="409.80" y="686.00" width="1.70" height="3.00" fill="#fff" stroke="#888" stroke-width="0.5"/>
<rect x="418.90" y="686.00" width="4.90" height="3.00" fill="#fff" stroke="#888" stroke-width="0.5"/>
<rect x="425.20" y="686.00" width="3.00" height="3.00" fill="#fff" stroke="#888" stroke-width="0.5"/>
<rect x="429.00" y="686.00" width="2.60" height="3.00" fill="#fff" stroke="#888" stroke-width="0.5"/>
<rect x="432.50" y="686.00" width="3.50" height="3.00" fill="#fff" stroke="#888" stroke-width="0.5"/>
<rect x="437.00" y="686.00" width="5.20" height="3.00" fill="#fff" stroke="#888" stroke-width="0.5"/>
<rect x="443.90" y="686.00" width="13.10" height="3.00" fill="#fff" stroke="#888" stroke-width="0.5"/>
<rect x="459.70" y="686.00" width="7.00" height="3.00" fill="#fff" stroke="#888" stroke-width="0.5"/>
<rect x="468.40" y="686.00" width="1.80" height="3.00" fill="#fff" stroke="#888" stroke-width="0.5"/>
<rect x="471.00" y="686.00" width="1.80" height="3.00" fill="#fff" stroke="#888" stroke-width="0.5"/>
<rect x="543.80" y="686.00" width="8.80" height="3.00" fill="#fff" stroke="#888" stroke-width="0.5"/>
<rect x="555.30" y="686.00" width="3.20" height="3.00" fill="#fff" stroke="#888" stroke-width="0.5"/>
<rect x="572.40" y="686.00" width="3.20" height="3.00" fill="#fff" stroke="#888" stroke-width="0.5"/>
<rect x="579.90" y="686.00" width="7.60" height="3.00" fill="#fff" stroke="#888" stroke-width="0.5"/>
<rect x="589.80" y="686.00" width="1.60" height="3.00" fill="#fff" stroke="#888" stroke-width="0.5"/>
<rect x="597.00" y="686.00" width="2.00" height="3.00" fill="#fff" stroke="#888" stroke-width="0.5"/>
<rect x="602.00" y="686.00" width="2.00" height="3.00" fill="#fff" stroke="#888" stroke-width="0.5"/>
<rect x="605.50" y="686.00" width="2.00" height="3.00" fill="#fff" stroke="#888" stroke-width="0.5"/>
<rect x="609.00" y="686.00" width="2.00" height="3.00" fill="#fff" stroke="#888" stroke-width="0.5"/>
<rect x="613.00" y="686.00" width="2.00" height="3.00" fill="#fff" stroke="#888" stroke-width="0.5"/>
<rect x="616.00" y="686.00" width="2.00" height="3.00" fill="#fff" stroke="#888" stroke-width="0.5"/>
<rect x="619.00" y="686.00" width="2.00" height="3.00" fill="#fff" stroke="#888" stroke-width="0.5"/>
<rect x="623.00" y="686.00" width="2.00" height="3.00" fill="#fff" stroke="#888" stroke-width="0.5"/>
<rect x="473.10" y="651.70" width="64.10" height="6.00" fill="#0000ff" fill-opacity="0.58"/>
<rect x="474.20" y="653.50" width="0.80" height="2.40" fill="#000044" fill-opacity="0.7"/>
<rect x="479.62" y="653.50" width="0.80" height="2.40" fill="#000044" fill-opacity="0.7"/>
<rect x="485.12" y="653.50" width="0.80" height="2.40" fill="#000044" fill-opacity="0.7"/>
<rect x="488.38" y="653.50" width="0.80" height="2.40" fill="#000044" fill-opacity="0.7"/>
<rect x="491.43" y="653.50" width="0.80" height="2.40" fill="#000044" fill-opacity="0.7"/>
<rect x="497.78" y="653.50" width="0.80" height="2.40" fill="#000044" fill-opacity="0.7"/>
<rect x="501.82" y="653.50" width="0.80" height="2.40" fill="#000044" fill-opacity="0.7"/>
<rect x="505.76" y="653.50" width="0.80" height="2.40" fill="#000044" fill-opacity="0.7"/>
<rect x="512.74" y="653.50" width="0.80" height="2.40" fill="#000044" fill-opacity="0.7"/>
<rect x="517.62" y="653.50" width="0.80" height="2.40" fill="#000044" fill-opacity="0.7"/>
<rect x="523.97" y="653.50" width="0.80" height="2.40" fill="#000044" fill-opacity="0.7"/>
<rect x="528.87" y="653.50" width="0.80" height="2.40" fill="#000044" fill-opacity="0.7"/>
<rect x="534.43" y="653.50" width="0.80" height="2.40" fill="#000044" fill-opacity="0.7"/>
<rect x="478.70" y="684.35" width="13.50" height="6.30" fill="#0000ff" fill-opacity="0.6"/>
<rect x="479.80" y="686.30" width="0.80" height="2.40" fill="#000044" fill-opacity="0.7"/>
<rect x="485.34" y="686.30" width="0.80" height="2.40" fill="#000044" fill-opacity="0.7"/>
<rect x="493.80" y="684.35" width="12.20" height="6.30" fill="#0000ff" fill-opacity="0.6"/>
<rect x="494.90" y="686.30" width="0.80" height="2.40" fill="#000044" fill-opacity="0.7"/>
<rect x="499.99" y="686.30" width="0.80" height="2.40" fill="#000044" fill-opacity="0.7"/>
<rect x="507.00" y="684.35" width="5.60" height="6.30" fill="#0000ff" fill-opacity="0.6"/>
<rect x="508.10" y="686.30" width="0.80" height="2.40" fill="#000044" fill-opacity="0.7"/>
<rect x="523.40" y="684.35" width="14.80" height="6.30" fill="#0000ff" fill-opacity="0.6"/>
<rect x="524.50" y="686.30" width="0.80" height="2.40" fill="#000044" fill-opacity="0.7"/>
<rect x="527.76" y="686.30" width="0.80" height="2.40" fill="#000044" fill-opacity="0.7"/>
<rect x="533.79" y="686.30" width="0.80" height="2.40" fill="#000044" fill-opacity="0.7"/>
<text x="504.00" y="639.13" font-size="6.2" fill="#1a1aff" stroke="#1a1aff" stroke-width="0.18" text-anchor="middle" font-weight="bold">PL6</text>
<text x="481.30" y="648.63" font-size="6.2" fill="#1a1aff" stroke="#1a1aff" stroke-width="0.18" text-anchor="middle">12</text>
<text x="492.50" y="648.63" font-size="6.2" fill="#1a1aff" stroke="#1a1aff" stroke-width="0.18" text-anchor="middle">11</text>
<text x="504.00" y="648.63" font-size="6.2" fill="#1a1aff" stroke="#1a1aff" stroke-width="0.18" text-anchor="middle">34</text>
<text x="522.40" y="648.63" font-size="6.2" fill="#1a1aff" stroke="#1a1aff" stroke-width="0.18" text-anchor="middle">14</text>
<text x="486.30" y="696.93" font-size="6.2" fill="#1a1aff" stroke="#1a1aff" stroke-width="0.18" text-anchor="middle">X</text>
<text x="496.10" y="696.93" font-size="6.2" fill="#1a1aff" stroke="#1a1aff" stroke-width="0.18" text-anchor="middle">C</text>
<text x="502.00" y="696.93" font-size="6.2" fill="#1a1aff" stroke="#1a1aff" stroke-width="0.18" text-anchor="middle">E</text>
<text x="510.00" y="696.93" font-size="6.2" fill="#1a1aff" stroke="#1a1aff" stroke-width="0.18" text-anchor="middle">W</text>
<text x="531.30" y="696.93" font-size="6.2" fill="#1a1aff" stroke="#1a1aff" stroke-width="0.18" text-anchor="middle">V</text>
<text x="510.00" y="703.03" font-size="6.2" fill="#1a1aff" stroke="#1a1aff" stroke-width="0.18" text-anchor="middle" font-weight="bold">L2</text>
<rect x="328.70" y="712.40" width="34.00" height="9.40" fill="#fff" stroke="#222" stroke-width="0.7"/>
<text x="345.70" y="719.59" font-size="6.09" fill="#000" stroke="#000" stroke-width="0.18" text-anchor="middle">Macrolocus</text>
<text x="354.70" y="730.16" font-size="6.0" fill="#000" stroke="#000" stroke-width="0.18">C5</text>
<text x="355.50" y="741.36" font-size="6.0" fill="#000" stroke="#000" stroke-width="0.18">1,084,173</text>
<text x="343.00" y="762.46" font-size="6.0" fill="#000" stroke="#000" stroke-width="0.18">NW_014463823.1</text>
<text x="356.00" y="774.16" font-size="6.0" fill="#000" stroke="#000" stroke-width="0.18">350,000</text>
<text x="635.80" y="741.56" font-size="6.0" fill="#000" stroke="#000" stroke-width="0.18">1,384,173</text>
<text x="636.40" y="773.76" font-size="6.0" fill="#000" stroke="#000" stroke-width="0.18">650,000</text>
<polygon points="402.40,734.70 408.80,734.70 402.40,765.70 393.20,765.70" fill="#d3d3d3"/>
<polygon points="429.20,734.70 431.70,734.70 432.20,765.70 430.40,765.70" fill="#d3d3d3"/>
<polygon points="466.60,734.70 484.60,734.70 525.50,765.70 517.50,765.70" fill="#d3d3d3"/>
<polygon points="520.10,734.70 528.00,734.70 536.20,765.70 527.30,765.70" fill="#d3d3d3"/>
<polygon points="534.90,734.70 538.00,734.70 582.00,765.70 578.90,765.70" fill="#e4e4e4" stroke="#bdbdbd" stroke-width="0.45"/>
<polygon points="539.00,734.70 542.10,734.70 586.50,765.70 582.20,765.70" fill="#e4e4e4" stroke="#bdbdbd" stroke-width="0.45"/>
<polygon points="547.00,734.70 549.40,734.70 604.50,765.70 598.00,765.70" fill="#e4e4e4" stroke="#bdbdbd" stroke-width="0.45"/>
<polygon points="562.80,734.70 566.80,734.70 608.50,765.70 604.50,765.70" fill="#e4e4e4" stroke="#bdbdbd" stroke-width="0.45"/>
<polygon points="569.40,734.70 575.00,734.70 612.80,765.70 608.50,765.70" fill="#e4e4e4" stroke="#bdbdbd" stroke-width="0.45"/>
<line x1="364.70" y1="733.50" x2="645.00" y2="733.50" stroke="#000" stroke-width="2.0"/>
<rect x="402.40" y="732.00" width="6.40" height="3.00" fill="#fff" stroke="#888" stroke-width="0.5"/>
<rect x="429.20" y="732.00" width="2.50" height="3.00" fill="#fff" stroke="#888" stroke-width="0.5"/>
<rect x="466.60" y="732.00" width="18.00" height="3.00" fill="#fff" stroke="#888" stroke-width="0.5"/>
<rect x="520.10" y="732.00" width="7.90" height="3.00" fill="#fff" stroke="#888" stroke-width="0.5"/>
<rect x="529.60" y="732.00" width="2.70" height="3.00" fill="#fff" stroke="#888" stroke-width="0.5"/>
<rect x="534.90" y="732.00" width="7.20" height="3.00" fill="#fff" stroke="#888" stroke-width="0.5"/>
<rect x="547.00" y="732.00" width="2.40" height="3.00" fill="#fff" stroke="#888" stroke-width="0.5"/>
<rect x="562.80" y="732.00" width="4.00" height="3.00" fill="#fff" stroke="#888" stroke-width="0.5"/>
<rect x="569.40" y="732.00" width="5.60" height="3.00" fill="#fff" stroke="#888" stroke-width="0.5"/>
<line x1="364.70" y1="766.90" x2="645.00" y2="766.90" stroke="#666666" stroke-width="1.8"/>
<rect x="393.20" y="765.40" width="9.20" height="3.00" fill="#fff" stroke="#888" stroke-width="0.5"/>
<rect x="430.40" y="765.40" width="1.80" height="3.00" fill="#fff" stroke="#888" stroke-width="0.5"/>
<rect x="460.00" y="765.40" width="12.20" height="3.00" fill="#fff" stroke="#888" stroke-width="0.5"/>
<rect x="493.80" y="765.40" width="30.20" height="3.00" fill="#fff" stroke="#888" stroke-width="0.5"/>
<rect x="526.70" y="765.40" width="2.90" height="3.00" fill="#fff" stroke="#888" stroke-width="0.5"/>
<rect x="537.20" y="765.40" width="3.30" height="3.00" fill="#fff" stroke="#888" stroke-width="0.5"/>
<rect x="550.30" y="765.40" width="6.60" height="3.00" fill="#fff" stroke="#888" stroke-width="0.5"/>
<rect x="558.60" y="765.40" width="2.30" height="3.00" fill="#fff" stroke="#888" stroke-width="0.5"/>
<rect x="566.80" y="765.40" width="4.90" height="3.00" fill="#fff" stroke="#888" stroke-width="0.5"/>
<rect x="573.30" y="765.40" width="5.60" height="3.00" fill="#fff" stroke="#888" stroke-width="0.5"/>
<rect x="582.20" y="765.40" width="4.30" height="3.00" fill="#fff" stroke="#888" stroke-width="0.5"/>
<rect x="593.00" y="765.40" width="3.30" height="3.00" fill="#fff" stroke="#888" stroke-width="0.5"/>
<rect x="598.00" y="765.40" width="6.50" height="3.00" fill="#fff" stroke="#888" stroke-width="0.5"/>
<rect x="606.20" y="765.40" width="6.60" height="3.00" fill="#fff" stroke="#888" stroke-width="0.5"/>
<rect x="502.00" y="730.70" width="5.00" height="5.60" fill="#0000ff" fill-opacity="0.6"/>
<text x="490.20" y="720.20" font-size="6.1" fill="#1a1aff" stroke="#1a1aff" stroke-width="0.18" font-weight="bold">PL10 macrolocus</text>
<text x="498.80" y="727.80" font-size="6.1" fill="#1a1aff" stroke="#1a1aff" stroke-width="0.18">37 (new)</text>
<text x="525.70" y="774.53" font-size="6.2" fill="#1a1aff" stroke="#1a1aff" stroke-width="0.18" text-anchor="middle">Ø</text>
<rect x="16.90" y="784.40" width="35.20" height="10.00" fill="#fff" stroke="#222" stroke-width="0.7"/>
<text x="34.50" y="791.89" font-size="6.09" fill="#000" stroke="#000" stroke-width="0.18" text-anchor="middle">Macrolocus</text>
<text x="42.20" y="807.66" font-size="6.0" fill="#000" stroke="#000" stroke-width="0.18">C5</text>
<text x="34.00" y="818.56" font-size="6.0" fill="#000" stroke="#000" stroke-width="0.18">2,159,737</text>
<text x="17.90" y="840.96" font-size="6.0" fill="#000" stroke="#000" stroke-width="0.18">NW_014464327.1</text>
<text x="39.00" y="851.56" font-size="6.0" fill="#000" stroke="#000" stroke-width="0.18">18,655</text>
<text x="634.80" y="819.76" font-size="6.0" fill="#000" stroke="#000" stroke-width="0.18">2,759,737</text>
<polygon points="113.60,812.60 138.00,812.60 178.00,843.10 148.80,843.10" fill="#d3d3d3" fill-opacity="0.8"/>
<polygon points="136.00,812.60 168.80,812.60 119.70,843.10 104.40,843.10" fill="#d3d3d3" fill-opacity="0.8"/>
<polygon points="169.00,812.60 173.00,812.60 104.00,843.10 97.00,843.10" fill="#d3d3d3" fill-opacity="0.5"/>
<polygon points="196.30,812.60 202.50,812.60 93.60,843.10 80.00,843.10" fill="#d3d3d3" fill-opacity="0.6"/>
<polygon points="208.00,812.60 212.00,812.60 79.00,843.10 72.00,843.10" fill="#d3d3d3" fill-opacity="0.5"/>
<polygon points="225.50,812.60 229.00,812.60 56.00,843.10 52.30,843.10" fill="#ececec" stroke="#bdbdbd" stroke-width="0.45"/>
<polygon points="70.70,812.60 73.70,812.60 201.00,843.10 193.30,843.10" fill="#ececec" stroke="#bdbdbd" stroke-width="0.45"/>
<polygon points="83.00,812.60 87.50,812.60 211.70,843.10 204.00,843.10" fill="#ececec" stroke="#bdbdbd" stroke-width="0.45"/>
<polygon points="367.60,812.60 379.00,812.60 450.00,879.40 430.00,879.40" fill="#d3d3d3"/>
<line x1="373.50" y1="812.60" x2="441.00" y2="879.40" stroke="#f4f4f4" stroke-width="0.5"/>
<polygon points="381.50,812.60 385.20,812.60 460.00,879.40 452.70,879.40" fill="#d3d3d3"/>
<polygon points="408.70,812.60 423.30,812.60 511.40,879.40 479.60,879.40" fill="#d3d3d3"/>
<polygon points="438.00,812.60 469.80,812.60 553.00,879.40 511.40,879.40" fill="#d3d3d3" fill-opacity="0.8"/>
<line x1="447.70" y1="812.60" x2="530.00" y2="879.40" stroke="#eee" stroke-width="0.6"/>
<line x1="455.00" y1="812.60" x2="540.00" y2="879.40" stroke="#eee" stroke-width="0.6"/>
<line x1="47.10" y1="811.40" x2="644.20" y2="811.40" stroke="#000" stroke-width="2.0"/>
<rect x="53.30" y="809.90" width="8.70" height="3.00" fill="#fff" stroke="#888" stroke-width="0.5"/>
<rect x="69.50" y="809.90" width="4.50" height="3.00" fill="#fff" stroke="#888" stroke-width="0.5"/>
<rect x="82.90" y="809.90" width="4.60" height="3.00" fill="#fff" stroke="#888" stroke-width="0.5"/>
<rect x="87.80" y="809.90" width="3.20" height="3.00" fill="#fff" stroke="#888" stroke-width="0.5"/>
<rect x="113.60" y="809.90" width="20.40" height="3.00" fill="#fff" stroke="#888" stroke-width="0.5"/>
<rect x="136.00" y="809.90" width="2.00" height="3.00" fill="#fff" stroke="#888" stroke-width="0.5"/>
<rect x="156.50" y="809.90" width="10.70" height="3.00" fill="#fff" stroke="#888" stroke-width="0.5"/>
<rect x="169.00" y="809.90" width="2.00" height="3.00" fill="#fff" stroke="#888" stroke-width="0.5"/>
<rect x="196.30" y="809.90" width="6.20" height="3.00" fill="#fff" stroke="#888" stroke-width="0.5"/>
<rect x="207.00" y="809.90" width="2.00" height="3.00" fill="#fff" stroke="#888" stroke-width="0.5"/>
<rect x="210.00" y="809.90" width="2.00" height="3.00" fill="#fff" stroke="#888" stroke-width="0.5"/>
<rect x="225.50" y="809.90" width="19.30" height="3.00" fill="#fff" stroke="#888" stroke-width="0.5"/>
<rect x="367.60" y="809.90" width="9.20" height="3.00" fill="#fff" stroke="#888" stroke-width="0.5"/>
<rect x="383.40" y="809.90" width="1.80" height="3.00" fill="#fff" stroke="#888" stroke-width="0.5"/>
<rect x="400.00" y="809.90" width="3.00" height="3.00" fill="#fff" stroke="#888" stroke-width="0.5"/>
<rect x="414.90" y="809.90" width="7.90" height="3.00" fill="#fff" stroke="#888" stroke-width="0.5"/>
<rect x="438.50" y="809.90" width="9.20" height="3.00" fill="#fff" stroke="#888" stroke-width="0.5"/>
<rect x="451.70" y="809.90" width="3.30" height="3.00" fill="#fff" stroke="#888" stroke-width="0.5"/>
<rect x="460.90" y="809.90" width="2.10" height="3.00" fill="#fff" stroke="#888" stroke-width="0.5"/>
<rect x="397.30" y="809.90" width="2.20" height="3.00" fill="#ff0000"/>
<line x1="47.10" y1="844.30" x2="355.20" y2="844.30" stroke="#666666" stroke-width="1.8"/>
<rect x="52.30" y="842.80" width="3.70" height="3.00" fill="#fff" stroke="#888" stroke-width="0.5"/>
<rect x="66.50" y="842.80" width="4.20" height="3.00" fill="#fff" stroke="#888" stroke-width="0.5"/>
<rect x="72.00" y="842.80" width="3.50" height="3.00" fill="#fff" stroke="#888" stroke-width="0.5"/>
<rect x="79.90" y="842.80" width="4.60" height="3.00" fill="#fff" stroke="#888" stroke-width="0.5"/>
<rect x="87.50" y="842.80" width="6.10" height="3.00" fill="#fff" stroke="#888" stroke-width="0.5"/>
<rect x="104.40" y="842.80" width="15.30" height="3.00" fill="#fff" stroke="#888" stroke-width="0.5"/>
<rect x="148.80" y="842.80" width="12.30" height="3.00" fill="#fff" stroke="#888" stroke-width="0.5"/>
<rect x="162.60" y="842.80" width="15.40" height="3.00" fill="#fff" stroke="#888" stroke-width="0.5"/>
<rect x="183.00" y="842.80" width="1.50" height="3.00" fill="#fff" stroke="#888" stroke-width="0.5"/>
<rect x="193.30" y="842.80" width="7.70" height="3.00" fill="#fff" stroke="#888" stroke-width="0.5"/>
<rect x="204.00" y="842.80" width="7.70" height="3.00" fill="#fff" stroke="#888" stroke-width="0.5"/>
<line x1="371.00" y1="880.60" x2="644.90" y2="880.60" stroke="#666666" stroke-width="1.8"/>
<rect x="446.40" y="879.10" width="6.60" height="3.00" fill="#fff" stroke="#888" stroke-width="0.5"/>
<rect x="458.50" y="879.10" width="2.50" height="3.00" fill="#fff" stroke="#888" stroke-width="0.5"/>
<rect x="468.20" y="879.10" width="9.70" height="3.00" fill="#fff" stroke="#888" stroke-width="0.5"/>
<rect x="487.00" y="879.10" width="9.70" height="3.00" fill="#fff" stroke="#888" stroke-width="0.5"/>
<rect x="485.80" y="879.10" width="22.40" height="3.00" fill="#fff" stroke="#888" stroke-width="0.5"/>
<rect x="509.50" y="879.10" width="6.50" height="3.00" fill="#fff" stroke="#888" stroke-width="0.5"/>
<rect x="521.00" y="879.10" width="4.00" height="3.00" fill="#fff" stroke="#888" stroke-width="0.5"/>
<rect x="535.80" y="879.10" width="7.20" height="3.00" fill="#fff" stroke="#888" stroke-width="0.5"/>
<rect x="560.00" y="879.10" width="5.00" height="3.00" fill="#fff" stroke="#888" stroke-width="0.5"/>
<rect x="572.00" y="879.10" width="3.00" height="3.00" fill="#fff" stroke="#888" stroke-width="0.5"/>
<rect x="585.00" y="879.10" width="5.00" height="3.00" fill="#fff" stroke="#888" stroke-width="0.5"/>
<rect x="594.50" y="879.10" width="7.30" height="3.00" fill="#fff" stroke="#888" stroke-width="0.5"/>
<rect x="619.00" y="879.10" width="14.60" height="3.00" fill="#fff" stroke="#888" stroke-width="0.5"/>
<rect x="641.00" y="879.10" width="3.00" height="3.00" fill="#fff" stroke="#888" stroke-width="0.5"/>
<rect x="246.00" y="808.30" width="33.60" height="6.20" fill="#0000ff" fill-opacity="0.55"/>
<rect x="247.10" y="810.20" width="0.80" height="2.40" fill="#000044" fill-opacity="0.7"/>
<rect x="251.31" y="810.20" width="0.80" height="2.40" fill="#000044" fill-opacity="0.7"/>
<rect x="254.43" y="810.20" width="0.80" height="2.40" fill="#000044" fill-opacity="0.7"/>
<rect x="260.89" y="810.20" width="0.80" height="2.40" fill="#000044" fill-opacity="0.7"/>
<rect x="265.78" y="810.20" width="0.80" height="2.40" fill="#000044" fill-opacity="0.7"/>
<rect x="271.66" y="810.20" width="0.80" height="2.40" fill="#000044" fill-opacity="0.7"/>
<rect x="278.17" y="810.20" width="0.80" height="2.40" fill="#000044" fill-opacity="0.7"/>
<rect x="280.80" y="808.30" width="42.90" height="6.20" fill="#0000ff" fill-opacity="0.55"/>
<rect x="281.90" y="810.20" width="0.80" height="2.40" fill="#000044" fill-opacity="0.7"/>
<rect x="288.58" y="810.20" width="0.80" height="2.40" fill="#000044" fill-opacity="0.7"/>
<rect x="293.16" y="810.20" width="0.80" height="2.40" fill="#000044" fill-opacity="0.7"/>
<rect x="299.37" y="810.20" width="0.80" height="2.40" fill="#000044" fill-opacity="0.7"/>
<rect x="304.15" y="810.20" width="0.80" height="2.40" fill="#000044" fill-opacity="0.7"/>
<rect x="310.89" y="810.20" width="0.80" height="2.40" fill="#000044" fill-opacity="0.7"/>
<rect x="317.40" y="810.20" width="0.80" height="2.40" fill="#000044" fill-opacity="0.7"/>
<rect x="320.79" y="810.20" width="0.80" height="2.40" fill="#000044" fill-opacity="0.7"/>
<rect x="325.50" y="808.30" width="15.30" height="6.20" fill="#0000ff" fill-opacity="0.55"/>
<rect x="326.60" y="810.20" width="0.80" height="2.40" fill="#000044" fill-opacity="0.7"/>
<rect x="330.47" y="810.20" width="0.80" height="2.40" fill="#000044" fill-opacity="0.7"/>
<rect x="337.33" y="810.20" width="0.80" height="2.40" fill="#000044" fill-opacity="0.7"/>
<rect x="346.60" y="808.30" width="15.30" height="6.20" fill="#0000ff" fill-opacity="0.55"/>
<rect x="347.70" y="810.20" width="0.80" height="2.40" fill="#000044" fill-opacity="0.7"/>
<rect x="353.21" y="810.20" width="0.80" height="2.40" fill="#000044" fill-opacity="0.7"/>
<rect x="357.41" y="810.20" width="0.80" height="2.40" fill="#000044" fill-opacity="0.7"/>
<rect x="236.10" y="841.30" width="76.90" height="6.00" fill="#0000ff" fill-opacity="0.55"/>
<rect x="237.20" y="843.10" width="0.80" height="2.40" fill="#000044" fill-opacity="0.7"/>
<rect x="241.74" y="843.10" width="0.80" height="2.40" fill="#000044" fill-opacity="0.7"/>
<rect x="246.15" y="843.10" width="0.80" height="2.40" fill="#000044" fill-opacity="0.7"/>
<rect x="251.49" y="843.10" width="0.80" height="2.40" fill="#000044" fill-opacity="0.7"/>
<rect x="256.82" y="843.10" width="0.80" height="2.40" fill="#000044" fill-opacity="0.7"/>
<rect x="263.44" y="843.10" width="0.80" height="2.40" fill="#000044" fill-opacity="0.7"/>
<rect x="269.17" y="843.10" width="0.80" height="2.40" fill="#000044" fill-opacity="0.7"/>
<rect x="275.88" y="843.10" width="0.80" height="2.40" fill="#000044" fill-opacity="0.7"/>
<rect x="282.31" y="843.10" width="0.80" height="2.40" fill="#000044" fill-opacity="0.7"/>
<rect x="289.27" y="843.10" width="0.80" height="2.40" fill="#000044" fill-opacity="0.7"/>
<rect x="294.96" y="843.10" width="0.80" height="2.40" fill="#000044" fill-opacity="0.7"/>
<rect x="298.61" y="843.10" width="0.80" height="2.40" fill="#000044" fill-opacity="0.7"/>
<rect x="305.05" y="843.10" width="0.80" height="2.40" fill="#000044" fill-opacity="0.7"/>
<rect x="313.80" y="841.30" width="26.50" height="6.00" fill="#0000ff" fill-opacity="0.55"/>
<rect x="314.90" y="843.10" width="0.80" height="2.40" fill="#000044" fill-opacity="0.7"/>
<rect x="321.52" y="843.10" width="0.80" height="2.40" fill="#000044" fill-opacity="0.7"/>
<rect x="326.80" y="843.10" width="0.80" height="2.40" fill="#000044" fill-opacity="0.7"/>
<rect x="332.65" y="843.10" width="0.80" height="2.40" fill="#000044" fill-opacity="0.7"/>
<rect x="336.49" y="843.10" width="0.80" height="2.40" fill="#000044" fill-opacity="0.7"/>
<rect x="317.50" y="841.30" width="21.00" height="6.00" fill="#0000ff"/>
<rect x="342.80" y="841.30" width="6.70" height="6.00" fill="#0000ff" fill-opacity="0.55"/>
<rect x="343.90" y="843.10" width="0.80" height="2.40" fill="#000044" fill-opacity="0.7"/>
<rect x="352.00" y="841.30" width="3.20" height="6.00" fill="#0000ff" fill-opacity="0.55"/>
<rect x="353.10" y="843.10" width="0.80" height="2.40" fill="#000044" fill-opacity="0.7"/>
<rect x="371.00" y="877.45" width="40.50" height="6.30" fill="#0000ff" fill-opacity="0.55"/>
<rect x="372.10" y="879.40" width="0.80" height="2.40" fill="#000044" fill-opacity="0.7"/>
<rect x="375.35" y="879.40" width="0.80" height="2.40" fill="#000044" fill-opacity="0.7"/>
<rect x="381.77" y="879.40" width="0.80" height="2.40" fill="#000044" fill-opacity="0.7"/>
<rect x="388.73" y="879.40" width="0.80" height="2.40" fill="#000044" fill-opacity="0.7"/>
<rect x="392.08" y="879.40" width="0.80" height="2.40" fill="#000044" fill-opacity="0.7"/>
<rect x="398.29" y="879.40" width="0.80" height="2.40" fill="#000044" fill-opacity="0.7"/>
<rect x="402.93" y="879.40" width="0.80" height="2.40" fill="#000044" fill-opacity="0.7"/>
<rect x="406.53" y="879.40" width="0.80" height="2.40" fill="#000044" fill-opacity="0.7"/>
<rect x="412.80" y="877.45" width="29.20" height="6.30" fill="#0000ff" fill-opacity="0.55"/>
<rect x="413.90" y="879.40" width="0.80" height="2.40" fill="#000044" fill-opacity="0.7"/>
<rect x="419.98" y="879.40" width="0.80" height="2.40" fill="#000044" fill-opacity="0.7"/>
<rect x="426.47" y="879.40" width="0.80" height="2.40" fill="#000044" fill-opacity="0.7"/>
<rect x="429.64" y="879.40" width="0.80" height="2.40" fill="#000044" fill-opacity="0.7"/>
<rect x="435.10" y="879.40" width="0.80" height="2.40" fill="#000044" fill-opacity="0.7"/>
<rect x="438.28" y="879.40" width="0.80" height="2.40" fill="#000044" fill-opacity="0.7"/>
<rect x="480.40" y="808.30" width="37.30" height="6.20" fill="#0000ff" fill-opacity="0.55"/>
<rect x="481.50" y="810.20" width="0.80" height="2.40" fill="#000044" fill-opacity="0.7"/>
<rect x="485.82" y="810.20" width="0.80" height="2.40" fill="#000044" fill-opacity="0.7"/>
<rect x="492.35" y="810.20" width="0.80" height="2.40" fill="#000044" fill-opacity="0.7"/>
<rect x="499.27" y="810.20" width="0.80" height="2.40" fill="#000044" fill-opacity="0.7"/>
<rect x="504.29" y="810.20" width="0.80" height="2.40" fill="#000044" fill-opacity="0.7"/>
<rect x="511.29" y="810.20" width="0.80" height="2.40" fill="#000044" fill-opacity="0.7"/>
<rect x="515.52" y="810.20" width="0.80" height="2.40" fill="#000044" fill-opacity="0.7"/>
<rect x="519.60" y="808.30" width="15.40" height="6.20" fill="#0000ff" fill-opacity="0.55"/>
<rect x="520.70" y="810.20" width="0.80" height="2.40" fill="#000044" fill-opacity="0.7"/>
<rect x="526.10" y="810.20" width="0.80" height="2.40" fill="#000044" fill-opacity="0.7"/>
<rect x="529.22" y="810.20" width="0.80" height="2.40" fill="#000044" fill-opacity="0.7"/>
<rect x="533.01" y="810.20" width="0.80" height="2.40" fill="#000044" fill-opacity="0.7"/>
<rect x="539.00" y="808.30" width="19.80" height="6.20" fill="#0000ff" fill-opacity="0.55"/>
<rect x="540.10" y="810.20" width="0.80" height="2.40" fill="#000044" fill-opacity="0.7"/>
<rect x="545.54" y="810.20" width="0.80" height="2.40" fill="#000044" fill-opacity="0.7"/>
<rect x="549.17" y="810.20" width="0.80" height="2.40" fill="#000044" fill-opacity="0.7"/>
<rect x="552.34" y="810.20" width="0.80" height="2.40" fill="#000044" fill-opacity="0.7"/>
<rect x="560.10" y="808.30" width="29.20" height="6.20" fill="#0000ff" fill-opacity="0.55"/>
<rect x="561.20" y="810.20" width="0.80" height="2.40" fill="#000044" fill-opacity="0.7"/>
<rect x="565.46" y="810.20" width="0.80" height="2.40" fill="#000044" fill-opacity="0.7"/>
<rect x="572.29" y="810.20" width="0.80" height="2.40" fill="#000044" fill-opacity="0.7"/>
<rect x="578.88" y="810.20" width="0.80" height="2.40" fill="#000044" fill-opacity="0.7"/>
<rect x="583.39" y="810.20" width="0.80" height="2.40" fill="#000044" fill-opacity="0.7"/>
<rect x="593.40" y="808.30" width="21.90" height="6.20" fill="#0000ff" fill-opacity="0.55"/>
<rect x="594.50" y="810.20" width="0.80" height="2.40" fill="#000044" fill-opacity="0.7"/>
<rect x="599.58" y="810.20" width="0.80" height="2.40" fill="#000044" fill-opacity="0.7"/>
<rect x="605.16" y="810.20" width="0.80" height="2.40" fill="#000044" fill-opacity="0.7"/>
<rect x="610.54" y="810.20" width="0.80" height="2.40" fill="#000044" fill-opacity="0.7"/>
<rect x="616.60" y="808.30" width="26.00" height="6.20" fill="#0000ff" fill-opacity="0.55"/>
<rect x="617.70" y="810.20" width="0.80" height="2.40" fill="#000044" fill-opacity="0.7"/>
<rect x="623.18" y="810.20" width="0.80" height="2.40" fill="#000044" fill-opacity="0.7"/>
<rect x="629.94" y="810.20" width="0.80" height="2.40" fill="#000044" fill-opacity="0.7"/>
<rect x="634.97" y="810.20" width="0.80" height="2.40" fill="#000044" fill-opacity="0.7"/>
<rect x="639.70" y="810.20" width="0.80" height="2.40" fill="#000044" fill-opacity="0.7"/>
<text x="281.50" y="793.40" font-size="6.1" fill="#1a1aff" stroke="#1a1aff" stroke-width="0.18" font-weight="bold">PL1 macrolocus</text>
<text x="256.70" y="805.03" font-size="6.2" fill="#1a1aff" stroke="#1a1aff" stroke-width="0.18" text-anchor="middle">19</text>
<text x="273.80" y="805.03" font-size="6.2" fill="#1a1aff" stroke="#1a1aff" stroke-width="0.18" text-anchor="middle">25</text>
<text x="296.40" y="805.03" font-size="6.2" fill="#1a1aff" stroke="#1a1aff" stroke-width="0.18" text-anchor="middle">30</text>
<text x="316.80" y="805.03" font-size="6.2" fill="#1a1aff" stroke="#1a1aff" stroke-width="0.18" text-anchor="middle">23</text>
<text x="332.90" y="805.03" font-size="6.2" fill="#1a1aff" stroke="#1a1aff" stroke-width="0.18" text-anchor="middle">6</text>
<text x="354.50" y="805.03" font-size="6.2" fill="#1a1aff" stroke="#1a1aff" stroke-width="0.18" text-anchor="middle">5</text>
<text x="239.40" y="854.93" font-size="6.2" fill="#1a1aff" stroke="#1a1aff" stroke-width="0.18" text-anchor="middle">O</text>
<text x="251.00" y="854.93" font-size="6.2" fill="#1a1aff" stroke="#1a1aff" stroke-width="0.18" text-anchor="middle">G</text>
<text x="265.20" y="854.93" font-size="6.2" fill="#1a1aff" stroke="#1a1aff" stroke-width="0.18" text-anchor="middle">M</text>
<text x="282.00" y="854.93" font-size="6.2" fill="#1a1aff" stroke="#1a1aff" stroke-width="0.18" text-anchor="middle">I</text>
<text x="293.70" y="854.93" font-size="6.2" fill="#1a1aff" stroke="#1a1aff" stroke-width="0.18" text-anchor="middle">F</text>
<text x="306.10" y="854.93" font-size="6.2" fill="#1a1aff" stroke="#1a1aff" stroke-width="0.18" text-anchor="middle">L</text>
<text x="327.20" y="854.93" font-size="6.2" fill="#1a1aff" stroke="#1a1aff" stroke-width="0.18" text-anchor="middle">A</text>
<text x="346.60" y="854.93" font-size="6.2" fill="#1a1aff" stroke="#1a1aff" stroke-width="0.18" text-anchor="middle">B</text>
<text x="356.00" y="854.93" font-size="6.2" fill="#1a1aff" stroke="#1a1aff" stroke-width="0.18" text-anchor="middle">D3</text>
<text x="299.40" y="863.63" font-size="6.2" fill="#1a1aff" stroke="#1a1aff" stroke-width="0.18" text-anchor="middle" font-weight="bold">L1.1</text>
<text x="357.80" y="847.16" font-size="6.0" fill="#000" stroke="#000" stroke-width="0.18">327,729</text>
<text x="556.30" y="794.10" font-size="6.1" fill="#1a1aff" stroke="#1a1aff" stroke-width="0.18" font-weight="bold">PL2 macrolocus</text>
<text x="492.00" y="804.83" font-size="6.2" fill="#1a1aff" stroke="#1a1aff" stroke-width="0.18" text-anchor="middle">20</text>
<text x="510.80" y="804.83" font-size="6.2" fill="#1a1aff" stroke="#1a1aff" stroke-width="0.18" text-anchor="middle">31</text>
<text x="528.10" y="804.83" font-size="6.2" fill="#1a1aff" stroke="#1a1aff" stroke-width="0.18" text-anchor="middle">22</text>
<text x="550.00" y="804.83" font-size="6.2" fill="#1a1aff" stroke="#1a1aff" stroke-width="0.18" text-anchor="middle">33</text>
<text x="574.50" y="804.83" font-size="6.2" fill="#1a1aff" stroke="#1a1aff" stroke-width="0.18" text-anchor="middle">2</text>
<text x="605.60" y="804.83" font-size="6.2" fill="#1a1aff" stroke="#1a1aff" stroke-width="0.18" text-anchor="middle">36</text>
<text x="630.10" y="804.83" font-size="6.2" fill="#1a1aff" stroke="#1a1aff" stroke-width="0.18" text-anchor="middle">13</text>
<text x="395.20" y="876.26" font-size="6.0" fill="#000" stroke="#000" stroke-width="0.18" text-anchor="end">NW_014464280.1 (rev)</text>
<text x="345.80" y="885.46" font-size="6.0" fill="#000" stroke="#000" stroke-width="0.18">274,917</text>
<text x="650.70" y="885.16" font-size="6.0" fill="#000" stroke="#000" stroke-width="0.18">0</text>
<text x="379.40" y="889.93" font-size="6.2" fill="#1a1aff" stroke="#1a1aff" stroke-width="0.18" text-anchor="middle">D1</text>
<text x="393.90" y="889.93" font-size="6.2" fill="#1a1aff" stroke="#1a1aff" stroke-width="0.18" text-anchor="middle">Q</text>
<text x="406.50" y="889.93" font-size="6.2" fill="#1a1aff" stroke="#1a1aff" stroke-width="0.18" text-anchor="middle">K</text>
<text x="422.80" y="889.93" font-size="6.2" fill="#1a1aff" stroke="#1a1aff" stroke-width="0.18" text-anchor="middle">K1</text>
<text x="437.20" y="889.93" font-size="6.2" fill="#1a1aff" stroke="#1a1aff" stroke-width="0.18" text-anchor="middle">P</text>
<text x="410.50" y="898.13" font-size="6.2" fill="#1a1aff" stroke="#1a1aff" stroke-width="0.18" text-anchor="middle" font-weight="bold">L1.2</text>
<rect x="18.60" y="890.50" width="34.70" height="10.10" fill="#fff" stroke="#222" stroke-width="0.7"/>
<text x="35.95" y="898.04" font-size="6.09" fill="#000" stroke="#000" stroke-width="0.18" text-anchor="middle">Macrolocus</text>
<text x="37.20" y="919.46" font-size="6.0" fill="#000" stroke="#000" stroke-width="0.18">C5</text>
<text x="31.80" y="939.56" font-size="6.0" fill="#000" stroke="#000" stroke-width="0.18">2,953,112</text>
<text x="22.80" y="959.66" font-size="6.0" fill="#000" stroke="#000" stroke-width="0.18">NW_014463823.1 (rev)</text>
<text x="34.00" y="970.56" font-size="6.0" fill="#000" stroke="#000" stroke-width="0.18">1,900,672</text>
<text x="631.60" y="937.76" font-size="6.0" fill="#000" stroke="#000" stroke-width="0.18">3,553,112</text>
<text x="632.40" y="970.26" font-size="6.0" fill="#000" stroke="#000" stroke-width="0.18">1,300,672</text>
<polygon points="117.90,931.60 121.60,931.60 173.00,961.60 170.50,961.60" fill="#ececec" stroke="#bdbdbd" stroke-width="0.45"/>
<polygon points="125.00,931.60 131.50,931.60 176.80,961.60 174.00,961.60" fill="#ececec" stroke="#bdbdbd" stroke-width="0.45"/>
<line x1="181.70" y1="931.60" x2="262.70" y2="961.60" stroke="#bdbdbd" stroke-width="0.5"/>
<polygon points="305.40,931.60 307.00,931.60 440.00,961.60 438.00,961.60" fill="#ececec" stroke="#bdbdbd" stroke-width="0.45"/>
<polygon points="318.50,931.60 321.50,931.60 461.50,961.60 455.70,961.60" fill="#ececec" stroke="#bdbdbd" stroke-width="0.45"/>
<line x1="45.90" y1="930.40" x2="643.60" y2="930.40" stroke="#000" stroke-width="2.0"/>
<rect x="98.00" y="928.90" width="3.00" height="3.00" fill="#fff" stroke="#888" stroke-width="0.5"/>
<rect x="103.00" y="928.90" width="3.00" height="3.00" fill="#fff" stroke="#888" stroke-width="0.5"/>
<rect x="106.50" y="928.90" width="2.50" height="3.00" fill="#fff" stroke="#888" stroke-width="0.5"/>
<rect x="112.90" y="928.90" width="3.10" height="3.00" fill="#fff" stroke="#888" stroke-width="0.5"/>
<rect x="117.00" y="928.90" width="4.60" height="3.00" fill="#fff" stroke="#888" stroke-width="0.5"/>
<rect x="121.60" y="928.90" width="7.40" height="3.00" fill="#fff" stroke="#888" stroke-width="0.5"/>
<rect x="129.30" y="928.90" width="2.00" height="3.00" fill="#fff" stroke="#888" stroke-width="0.5"/>
<rect x="180.70" y="928.90" width="2.00" height="3.00" fill="#fff" stroke="#888" stroke-width="0.5"/>
<rect x="304.40" y="928.90" width="2.00" height="3.00" fill="#fff" stroke="#888" stroke-width="0.5"/>
<rect x="319.50" y="928.90" width="2.00" height="3.00" fill="#fff" stroke="#888" stroke-width="0.5"/>
<rect x="363.20" y="928.90" width="7.00" height="3.00" fill="#fff" stroke="#888" stroke-width="0.5"/>
<rect x="383.20" y="928.90" width="2.00" height="3.00" fill="#fff" stroke="#888" stroke-width="0.5"/>
<rect x="383.50" y="928.90" width="2.00" height="3.00" fill="#fff" stroke="#888" stroke-width="0.5"/>
<rect x="433.30" y="928.90" width="2.00" height="3.00" fill="#fff" stroke="#888" stroke-width="0.5"/>
<rect x="473.80" y="928.90" width="2.00" height="3.00" fill="#fff" stroke="#888" stroke-width="0.5"/>
<rect x="535.70" y="928.90" width="2.00" height="3.00" fill="#fff" stroke="#888" stroke-width="0.5"/>
<rect x="572.70" y="928.90" width="2.00" height="3.00" fill="#fff" stroke="#888" stroke-width="0.5"/>
<rect x="585.70" y="928.90" width="13.80" height="3.00" fill="#fff" stroke="#888" stroke-width="0.5"/>
<rect x="610.20" y="928.90" width="12.50" height="3.00" fill="#fff" stroke="#888" stroke-width="0.5"/>
<line x1="45.90" y1="962.80" x2="643.60" y2="962.80" stroke="#666666" stroke-width="1.8"/>
<rect x="115.40" y="961.30" width="2.60" height="3.00" fill="#fff" stroke="#888" stroke-width="0.5"/>
<rect x="119.00" y="961.30" width="4.00" height="3.00" fill="#fff" stroke="#888" stroke-width="0.5"/>
<rect x="124.00" y="961.30" width="3.00" height="3.00" fill="#fff" stroke="#888" stroke-width="0.5"/>
<rect x="128.00" y="961.30" width="3.50" height="3.00" fill="#fff" stroke="#888" stroke-width="0.5"/>
<rect x="170.50" y="961.30" width="2.50" height="3.00" fill="#fff" stroke="#888" stroke-width="0.5"/>
<rect x="174.00" y="961.30" width="2.80" height="3.00" fill="#fff" stroke="#888" stroke-width="0.5"/>
<rect x="261.70" y="961.30" width="2.00" height="3.00" fill="#fff" stroke="#888" stroke-width="0.5"/>
<rect x="431.20" y="961.30" width="6.70" height="3.00" fill="#fff" stroke="#888" stroke-width="0.5"/>
<rect x="438.80" y="961.30" width="16.00" height="3.00" fill="#fff" stroke="#888" stroke-width="0.5"/>
<rect x="455.70" y="961.30" width="5.80" height="3.00" fill="#fff" stroke="#888" stroke-width="0.5"/>
<rect x="45.90" y="927.70" width="33.50" height="5.40" fill="#0000ff" fill-opacity="0.55"/>
<rect x="47.00" y="929.20" width="0.80" height="2.40" fill="#000044" fill-opacity="0.7"/>
<rect x="50.95" y="929.20" width="0.80" height="2.40" fill="#000044" fill-opacity="0.7"/>
<rect x="55.15" y="929.20" width="0.80" height="2.40" fill="#000044" fill-opacity="0.7"/>
<rect x="62.07" y="929.20" width="0.80" height="2.40" fill="#000044" fill-opacity="0.7"/>
<rect x="67.15" y="929.20" width="0.80" height="2.40" fill="#000044" fill-opacity="0.7"/>
<rect x="72.34" y="929.20" width="0.80" height="2.40" fill="#000044" fill-opacity="0.7"/>
<rect x="75.39" y="929.20" width="0.80" height="2.40" fill="#000044" fill-opacity="0.7"/>
<rect x="81.40" y="927.70" width="13.60" height="5.40" fill="#0000ff" fill-opacity="0.55"/>
<rect x="82.50" y="929.20" width="0.80" height="2.40" fill="#000044" fill-opacity="0.7"/>
<rect x="87.82" y="929.20" width="0.80" height="2.40" fill="#000044" fill-opacity="0.7"/>
<rect x="90.90" y="929.20" width="0.80" height="2.40" fill="#000044" fill-opacity="0.7"/>
<rect x="336.20" y="927.50" width="22.50" height="5.80" fill="#0000ff" fill-opacity="0.55"/>
<rect x="337.30" y="929.20" width="0.80" height="2.40" fill="#000044" fill-opacity="0.7"/>
<rect x="342.83" y="929.20" width="0.80" height="2.40" fill="#000044" fill-opacity="0.7"/>
<rect x="346.07" y="929.20" width="0.80" height="2.40" fill="#000044" fill-opacity="0.7"/>
<rect x="351.58" y="929.20" width="0.80" height="2.40" fill="#000044" fill-opacity="0.7"/>
<rect x="356.44" y="929.20" width="0.80" height="2.40" fill="#000044" fill-opacity="0.7"/>
<rect x="139.00" y="959.65" width="12.90" height="6.30" fill="#0000ff" fill-opacity="0.55"/>
<text x="55.80" y="916.20" font-size="6.1" fill="#1a1aff" stroke="#1a1aff" stroke-width="0.18" font-weight="bold">PL2 macrolocus</text>
<text x="65.80" y="923.93" font-size="6.2" fill="#1a1aff" stroke="#1a1aff" stroke-width="0.18" text-anchor="middle">18</text>
<text x="89.80" y="923.93" font-size="6.2" fill="#1a1aff" stroke="#1a1aff" stroke-width="0.18" text-anchor="middle">16</text>
<text x="325.40" y="915.20" font-size="6.1" fill="#1a1aff" stroke="#1a1aff" stroke-width="0.18" font-weight="bold">PL4 macrolocus</text>
<text x="348.50" y="923.93" font-size="6.2" fill="#1a1aff" stroke="#1a1aff" stroke-width="0.18" text-anchor="middle">7</text>
<text x="145.70" y="972.83" font-size="6.2" fill="#1a1aff" stroke="#1a1aff" stroke-width="0.18" text-anchor="middle">S</text>
<text x="145.70" y="979.83" font-size="6.2" fill="#1a1aff" stroke="#1a1aff" stroke-width="0.18" text-anchor="middle" font-weight="bold">L6</text>
<rect x="16.90" y="997.40" width="28.30" height="8.70" fill="#fff" stroke="#222" stroke-width="0.7"/>
<text x="31.05" y="1004.24" font-size="6.09" fill="#000" stroke="#000" stroke-width="0.18" text-anchor="middle">PL5-PL8</text>
<text x="40.90" y="1013.26" font-size="6.0" fill="#000" stroke="#000" stroke-width="0.18">C5</text>
<text x="30.30" y="1024.46" font-size="6.0" fill="#000" stroke="#000" stroke-width="0.18">19,083,177</text>
<text x="21.10" y="1046.26" font-size="6.0" fill="#000" stroke="#000" stroke-width="0.18">NW_014463791.1</text>
<text x="34.00" y="1057.16" font-size="6.0" fill="#000" stroke="#000" stroke-width="0.18">1,442,155</text>
<text x="336.10" y="1046.66" font-size="6.0" fill="#000" stroke="#000" stroke-width="0.18">1,742,155</text>
<text x="327.70" y="1059.86" font-size="6.0" fill="#000" stroke="#000" stroke-width="0.18">NW_014463921.1</text>
<text x="344.70" y="1071.26" font-size="6.0" fill="#000" stroke="#000" stroke-width="0.18">189,129</text>
<text x="631.70" y="1023.76" font-size="6.0" fill="#000" stroke="#000" stroke-width="0.18">19,683,177</text>
<text x="634.20" y="1070.76" font-size="6.0" fill="#000" stroke="#000" stroke-width="0.18">489,129</text>
<polygon points="98.40,1017.90 111.00,1017.90 108.50,1048.30 85.00,1048.30" fill="#d3d3d3"/>
<line x1="97.50" y1="1017.90" x2="83.00" y2="1048.30" stroke="#c8c8c8" stroke-width="0.5"/>
<polygon points="125.30,1017.90 129.00,1017.90 114.10,1048.30 109.20,1048.30" fill="#d3d3d3" fill-opacity="0.6"/>
<polygon points="159.00,1017.90 162.80,1017.90 159.00,1048.30 155.50,1048.30" fill="#d3d3d3" fill-opacity="0.7"/>
<polygon points="174.80,1017.90 183.60,1017.90 172.00,1048.30 165.00,1048.30" fill="#d3d3d3" fill-opacity="0.8"/>
<polygon points="187.60,1017.90 196.70,1017.90 188.30,1048.30 179.20,1048.30" fill="#d3d3d3" fill-opacity="0.85"/>
<polygon points="202.90,1017.90 206.60,1017.90 208.40,1048.30 201.10,1048.30" fill="#d3d3d3" fill-opacity="0.7"/>
<polygon points="209.10,1017.90 225.90,1017.90 305.10,1048.30 212.00,1048.30" fill="#d3d3d3"/>
<polygon points="289.40,1017.90 298.90,1017.90 325.20,1048.30 314.20,1048.30" fill="#d3d3d3" fill-opacity="0.6"/>
<polygon points="305.10,1017.90 317.20,1017.90 336.10,1048.30 325.20,1048.30" fill="#d3d3d3" fill-opacity="0.6"/>
<polygon points="318.00,1017.90 321.50,1017.90 403.00,1062.80 397.30,1062.80" fill="#ececec" stroke="#bdbdbd" stroke-width="0.45"/>
<polygon points="417.50,1017.90 442.40,1017.90 510.20,1062.80 458.20,1062.80" fill="#d3d3d3"/>
<polygon points="450.00,1017.90 467.00,1017.90 531.00,1062.80 510.20,1062.80" fill="#d3d3d3" fill-opacity="0.85"/>
<line x1="453.20" y1="1017.90" x2="515.00" y2="1062.80" stroke="#fff" stroke-width="0.5"/>
<polygon points="483.00,1017.90 511.50,1017.90 581.00,1062.80 555.00,1062.80" fill="#d3d3d3" fill-opacity="0.75"/>
<line x1="492.80" y1="1017.90" x2="563.00" y2="1062.80" stroke="#fff" stroke-width="0.5"/>
<line x1="503.20" y1="1017.90" x2="572.00" y2="1062.80" stroke="#fff" stroke-width="0.5"/>
<polygon points="552.00,1017.90 556.00,1017.90 632.50,1062.80 628.80,1062.80" fill="#ececec" stroke="#bdbdbd" stroke-width="0.45"/>
<polygon points="557.50,1017.90 562.00,1017.90 637.10,1062.80 633.00,1062.80" fill="#ececec" stroke="#bdbdbd" stroke-width="0.45"/>
<line x1="45.90" y1="1016.70" x2="643.60" y2="1016.70" stroke="#000" stroke-width="2.0"/>
<rect x="57.60" y="1015.20" width="23.50" height="3.00" fill="#fff" stroke="#888" stroke-width="0.5"/>
<rect x="83.90" y="1015.20" width="2.00" height="3.00" fill="#fff" stroke="#888" stroke-width="0.5"/>
<rect x="89.80" y="1015.20" width="8.20" height="3.00" fill="#fff" stroke="#888" stroke-width="0.5"/>
<rect x="98.90" y="1015.20" width="2.00" height="3.00" fill="#fff" stroke="#888" stroke-width="0.5"/>
<rect x="102.50" y="1015.20" width="8.40" height="3.00" fill="#fff" stroke="#888" stroke-width="0.5"/>
<rect x="125.30" y="1015.20" width="3.70" height="3.00" fill="#fff" stroke="#888" stroke-width="0.5"/>
<rect x="159.00" y="1015.20" width="3.80" height="3.00" fill="#fff" stroke="#888" stroke-width="0.5"/>
<rect x="169.00" y="1015.20" width="2.00" height="3.00" fill="#fff" stroke="#888" stroke-width="0.5"/>
<rect x="174.80" y="1015.20" width="8.80" height="3.00" fill="#fff" stroke="#888" stroke-width="0.5"/>
<rect x="187.60" y="1015.20" width="9.10" height="3.00" fill="#fff" stroke="#888" stroke-width="0.5"/>
<rect x="202.90" y="1015.20" width="3.70" height="3.00" fill="#fff" stroke="#888" stroke-width="0.5"/>
<rect x="209.10" y="1015.20" width="16.80" height="3.00" fill="#fff" stroke="#888" stroke-width="0.5"/>
<rect x="256.90" y="1015.20" width="21.60" height="3.00" fill="#fff" stroke="#888" stroke-width="0.5"/>
<rect x="289.40" y="1015.20" width="9.50" height="3.00" fill="#fff" stroke="#888" stroke-width="0.5"/>
<rect x="305.10" y="1015.20" width="4.40" height="3.00" fill="#fff" stroke="#888" stroke-width="0.5"/>
<rect x="311.30" y="1015.20" width="5.90" height="3.00" fill="#fff" stroke="#888" stroke-width="0.5"/>
<rect x="317.90" y="1015.20" width="3.60" height="3.00" fill="#fff" stroke="#888" stroke-width="0.5"/>
<rect x="417.50" y="1015.20" width="24.90" height="3.00" fill="#fff" stroke="#888" stroke-width="0.5"/>
<rect x="450.00" y="1015.20" width="2.00" height="3.00" fill="#fff" stroke="#888" stroke-width="0.5"/>
<rect x="453.20" y="1015.20" width="12.50" height="3.00" fill="#fff" stroke="#888" stroke-width="0.5"/>
<rect x="483.20" y="1015.20" width="6.20" height="3.00" fill="#fff" stroke="#888" stroke-width="0.5"/>
<rect x="492.80" y="1015.20" width="6.20" height="3.00" fill="#fff" stroke="#888" stroke-width="0.5"/>
<rect x="503.20" y="1015.20" width="8.30" height="3.00" fill="#fff" stroke="#888" stroke-width="0.5"/>
<rect x="551.80" y="1015.20" width="5.40" height="3.00" fill="#fff" stroke="#888" stroke-width="0.5"/>
<rect x="558.00" y="1015.20" width="4.00" height="3.00" fill="#fff" stroke="#888" stroke-width="0.5"/>
<rect x="565.60" y="1015.20" width="5.00" height="3.00" fill="#fff" stroke="#888" stroke-width="0.5"/>
<rect x="571.80" y="1015.20" width="5.00" height="3.00" fill="#fff" stroke="#888" stroke-width="0.5"/>
<rect x="584.60" y="1015.20" width="18.40" height="3.00" fill="#fff" stroke="#888" stroke-width="0.5"/>
<rect x="615.60" y="1015.20" width="3.90" height="3.00" fill="#fff" stroke="#888" stroke-width="0.5"/>
<rect x="619.80" y="1015.20" width="3.20" height="3.00" fill="#fff" stroke="#888" stroke-width="0.5"/>
<rect x="623.70" y="1015.20" width="2.00" height="3.00" fill="#fff" stroke="#888" stroke-width="0.5"/>
<rect x="627.50" y="1015.20" width="6.90" height="3.00" fill="#fff" stroke="#888" stroke-width="0.5"/>
<line x1="45.90" y1="1049.50" x2="356.20" y2="1049.50" stroke="#000" stroke-width="2.0"/>
<rect x="49.60" y="1048.00" width="3.70" height="3.00" fill="#fff" stroke="#888" stroke-width="0.5"/>
<rect x="56.60" y="1048.00" width="9.20" height="3.00" fill="#fff" stroke="#888" stroke-width="0.5"/>
<rect x="67.00" y="1048.00" width="3.70" height="3.00" fill="#fff" stroke="#888" stroke-width="0.5"/>
<rect x="85.60" y="1048.00" width="21.10" height="3.00" fill="#fff" stroke="#888" stroke-width="0.5"/>
<rect x="109.20" y="1048.00" width="4.90" height="3.00" fill="#fff" stroke="#888" stroke-width="0.5"/>
<rect x="155.50" y="1048.00" width="3.50" height="3.00" fill="#fff" stroke="#888" stroke-width="0.5"/>
<rect x="162.80" y="1048.00" width="3.60" height="3.00" fill="#fff" stroke="#888" stroke-width="0.5"/>
<rect x="170.00" y="1048.00" width="3.70" height="3.00" fill="#fff" stroke="#888" stroke-width="0.5"/>
<rect x="179.20" y="1048.00" width="5.50" height="3.00" fill="#fff" stroke="#888" stroke-width="0.5"/>
<rect x="186.40" y="1048.00" width="2.00" height="3.00" fill="#fff" stroke="#888" stroke-width="0.5"/>
<rect x="193.00" y="1048.00" width="2.00" height="3.00" fill="#fff" stroke="#888" stroke-width="0.5"/>
<rect x="201.10" y="1048.00" width="7.30" height="3.00" fill="#fff" stroke="#888" stroke-width="0.5"/>
<rect x="212.00" y="1048.00" width="93.10" height="3.00" fill="#fff" stroke="#888" stroke-width="0.5"/>
<rect x="314.20" y="1048.00" width="11.00" height="3.00" fill="#fff" stroke="#888" stroke-width="0.5"/>
<rect x="331.80" y="1048.00" width="4.30" height="3.00" fill="#fff" stroke="#888" stroke-width="0.5"/>
<rect x="339.10" y="1048.00" width="10.90" height="3.00" fill="#fff" stroke="#888" stroke-width="0.5"/>
<line x1="356.30" y1="1064.00" x2="642.90" y2="1064.00" stroke="#666666" stroke-width="1.8"/>
<rect x="356.30" y="1062.50" width="2.70" height="3.00" fill="#fff" stroke="#888" stroke-width="0.5"/>
<rect x="365.00" y="1062.50" width="10.50" height="3.00" fill="#fff" stroke="#888" stroke-width="0.5"/>
<rect x="376.80" y="1062.50" width="3.90" height="3.00" fill="#fff" stroke="#888" stroke-width="0.5"/>
<rect x="384.10" y="1062.50" width="11.60" height="3.00" fill="#fff" stroke="#888" stroke-width="0.5"/>
<rect x="397.30" y="1062.50" width="5.70" height="3.00" fill="#fff" stroke="#888" stroke-width="0.5"/>
<rect x="458.20" y="1062.50" width="52.00" height="3.00" fill="#fff" stroke="#888" stroke-width="0.5"/>
<rect x="517.70" y="1062.50" width="2.90" height="3.00" fill="#fff" stroke="#888" stroke-width="0.5"/>
<rect x="521.90" y="1062.50" width="9.10" height="3.00" fill="#fff" stroke="#888" stroke-width="0.5"/>
<rect x="551.80" y="1062.50" width="4.20" height="3.00" fill="#fff" stroke="#888" stroke-width="0.5"/>
<rect x="562.20" y="1062.50" width="7.50" height="3.00" fill="#fff" stroke="#888" stroke-width="0.5"/>
<rect x="574.70" y="1062.50" width="6.30" height="3.00" fill="#fff" stroke="#888" stroke-width="0.5"/>
<rect x="583.00" y="1062.50" width="17.70" height="3.00" fill="#fff" stroke="#888" stroke-width="0.5"/>
<rect x="629.00" y="1062.50" width="3.00" height="3.00" fill="#fff" stroke="#888" stroke-width="0.5"/>
<rect x="632.30" y="1062.50" width="2.10" height="3.00" fill="#fff" stroke="#888" stroke-width="0.5"/>
<rect x="635.20" y="1062.50" width="1.80" height="3.00" fill="#fff" stroke="#888" stroke-width="0.5"/>
<rect x="130.80" y="1013.85" width="28.00" height="5.70" fill="#0000ff" fill-opacity="0.55"/>
<rect x="131.90" y="1015.50" width="0.80" height="2.40" fill="#000044" fill-opacity="0.7"/>
<rect x="136.31" y="1015.50" width="0.80" height="2.40" fill="#000044" fill-opacity="0.7"/>
<rect x="142.14" y="1015.50" width="0.80" height="2.40" fill="#000044" fill-opacity="0.7"/>
<rect x="148.09" y="1015.50" width="0.80" height="2.40" fill="#000044" fill-opacity="0.7"/>
<rect x="151.18" y="1015.50" width="0.80" height="2.40" fill="#000044" fill-opacity="0.7"/>
<rect x="154.42" y="1015.50" width="0.80" height="2.40" fill="#000044" fill-opacity="0.7"/>
<rect x="117.90" y="1046.80" width="18.60" height="5.40" fill="#0000ff" fill-opacity="0.55"/>
<rect x="119.00" y="1048.30" width="0.80" height="2.40" fill="#000044" fill-opacity="0.7"/>
<rect x="125.85" y="1048.30" width="0.80" height="2.40" fill="#000044" fill-opacity="0.7"/>
<rect x="129.86" y="1048.30" width="0.80" height="2.40" fill="#000044" fill-opacity="0.7"/>
<rect x="134.68" y="1048.30" width="0.80" height="2.40" fill="#000044" fill-opacity="0.7"/>
<rect x="137.70" y="1046.80" width="14.90" height="5.40" fill="#0000ff" fill-opacity="0.55"/>
<rect x="138.80" y="1048.30" width="0.80" height="2.40" fill="#000044" fill-opacity="0.7"/>
<rect x="143.08" y="1048.30" width="0.80" height="2.40" fill="#000044" fill-opacity="0.7"/>
<rect x="147.54" y="1048.30" width="0.80" height="2.40" fill="#000044" fill-opacity="0.7"/>
<rect x="466.60" y="1013.95" width="14.00" height="5.50" fill="#0000ff" fill-opacity="0.8"/>
<rect x="467.70" y="1015.50" width="0.80" height="2.40" fill="#000044" fill-opacity="0.7"/>
<rect x="472.18" y="1015.50" width="0.80" height="2.40" fill="#000044" fill-opacity="0.7"/>
<rect x="477.56" y="1015.50" width="0.80" height="2.40" fill="#000044" fill-opacity="0.7"/>
<rect x="537.30" y="1061.25" width="11.60" height="5.50" fill="#0000ff" fill-opacity="0.8"/>
<rect x="538.40" y="1062.80" width="0.80" height="2.40" fill="#000044" fill-opacity="0.7"/>
<rect x="542.91" y="1062.80" width="0.80" height="2.40" fill="#000044" fill-opacity="0.7"/>
<text x="144.80" y="1002.13" font-size="6.2" fill="#1a1aff" stroke="#1a1aff" stroke-width="0.18" text-anchor="middle" font-weight="bold">PL5</text>
<text x="144.70" y="1010.33" font-size="6.2" fill="#1a1aff" stroke="#1a1aff" stroke-width="0.18" text-anchor="middle">1</text>
<text x="127.00" y="1059.23" font-size="6.2" fill="#1a1aff" stroke="#1a1aff" stroke-width="0.18" text-anchor="middle">N</text>
<text x="146.40" y="1059.23" font-size="6.2" fill="#1a1aff" stroke="#1a1aff" stroke-width="0.18" text-anchor="middle">J</text>
<text x="136.00" y="1066.63" font-size="6.2" fill="#1a1aff" stroke="#1a1aff" stroke-width="0.18" text-anchor="middle" font-weight="bold">L3</text>
<text x="474.00" y="1001.13" font-size="6.2" fill="#1a1aff" stroke="#1a1aff" stroke-width="0.18" text-anchor="middle" font-weight="bold">PL8</text>
<text x="474.30" y="1010.33" font-size="6.2" fill="#1a1aff" stroke="#1a1aff" stroke-width="0.18" text-anchor="middle">26</text>
<text x="543.50" y="1074.23" font-size="6.2" fill="#1a1aff" stroke="#1a1aff" stroke-width="0.18" text-anchor="middle">H</text>
<text x="543.50" y="1081.23" font-size="6.2" fill="#1a1aff" stroke="#1a1aff" stroke-width="0.18" text-anchor="middle" font-weight="bold">L4</text>
<rect x="16.90" y="1096.90" width="27.80" height="9.20" fill="#fff" stroke="#222" stroke-width="0.7"/>
<text x="30.80" y="1103.99" font-size="6.09" fill="#000" stroke="#000" stroke-width="0.18" text-anchor="middle">PL3-PL7</text>
<text x="40.90" y="1115.16" font-size="6.0" fill="#000" stroke="#000" stroke-width="0.18">C10</text>
<text x="31.50" y="1126.36" font-size="6.0" fill="#000" stroke="#000" stroke-width="0.18">10,162,837</text>
<text x="19.10" y="1148.66" font-size="6.0" fill="#000" stroke="#000" stroke-width="0.18">NW_014463854.1 (rev)</text>
<text x="32.80" y="1159.66" font-size="6.0" fill="#000" stroke="#000" stroke-width="0.18">2,463,433</text>
<text x="144.50" y="1171.56" font-size="6.0" fill="#000" stroke="#000" stroke-width="0.18">NW_014463939.1</text>
<text x="156.80" y="1183.46" font-size="6.0" fill="#000" stroke="#000" stroke-width="0.18">950,358</text>
<text x="632.50" y="1126.36" font-size="6.0" fill="#000" stroke="#000" stroke-width="0.18">10,762,837</text>
<text x="632.50" y="1159.46" font-size="6.0" fill="#000" stroke="#000" stroke-width="0.18">1,863,433</text>
<text x="632.50" y="1184.16" font-size="6.0" fill="#000" stroke="#000" stroke-width="0.18">1,430,358</text>
<line x1="194.00" y1="1120.30" x2="328.00" y2="1150.80" stroke="#cfcfcf" stroke-width="0.4"/>
<line x1="196.40" y1="1120.30" x2="331.80" y2="1150.80" stroke="#cfcfcf" stroke-width="0.4"/>
<line x1="198.80" y1="1120.30" x2="335.60" y2="1150.80" stroke="#cfcfcf" stroke-width="0.4"/>
<line x1="201.20" y1="1120.30" x2="339.40" y2="1150.80" stroke="#cfcfcf" stroke-width="0.4"/>
<line x1="203.60" y1="1120.30" x2="343.20" y2="1150.80" stroke="#cfcfcf" stroke-width="0.4"/>
<polygon points="412.00,1120.30 421.20,1120.30 429.80,1174.70 424.00,1174.70" fill="#d3d3d3" fill-opacity="0.85"/>
<polygon points="431.70,1120.30 440.30,1120.30 417.20,1174.70 410.60,1174.70" fill="#d3d3d3" fill-opacity="0.85"/>
<polygon points="481.40,1120.30 491.20,1120.30 473.80,1174.70 467.20,1174.70" fill="#d3d3d3" fill-opacity="0.85"/>
<polygon points="492.20,1120.30 498.80,1120.30 489.60,1174.70 476.40,1174.70" fill="#d3d3d3" fill-opacity="0.85"/>
<line x1="45.90" y1="1119.10" x2="644.00" y2="1119.10" stroke="#000" stroke-width="2.0"/>
<rect x="93.80" y="1117.60" width="9.20" height="3.00" fill="#fff" stroke="#888" stroke-width="0.5"/>
<rect x="131.50" y="1117.60" width="49.80" height="3.00" fill="#fff" stroke="#888" stroke-width="0.5"/>
<rect x="193.60" y="1117.60" width="10.50" height="3.00" fill="#fff" stroke="#888" stroke-width="0.5"/>
<rect x="206.90" y="1117.60" width="2.40" height="3.00" fill="#fff" stroke="#888" stroke-width="0.5"/>
<rect x="211.10" y="1117.60" width="2.80" height="3.00" fill="#fff" stroke="#888" stroke-width="0.5"/>
<rect x="216.40" y="1117.60" width="5.20" height="3.00" fill="#fff" stroke="#888" stroke-width="0.5"/>
<rect x="225.50" y="1117.60" width="2.00" height="3.00" fill="#fff" stroke="#888" stroke-width="0.5"/>
<rect x="309.20" y="1117.60" width="7.00" height="3.00" fill="#fff" stroke="#888" stroke-width="0.5"/>
<rect x="377.90" y="1117.60" width="2.00" height="3.00" fill="#fff" stroke="#888" stroke-width="0.5"/>
<rect x="392.30" y="1117.60" width="15.70" height="3.00" fill="#fff" stroke="#888" stroke-width="0.5"/>
<rect x="410.60" y="1117.60" width="10.60" height="3.00" fill="#fff" stroke="#888" stroke-width="0.5"/>
<rect x="424.00" y="1117.60" width="2.00" height="3.00" fill="#fff" stroke="#888" stroke-width="0.5"/>
<rect x="431.70" y="1117.60" width="8.60" height="3.00" fill="#fff" stroke="#888" stroke-width="0.5"/>
<rect x="477.90" y="1117.60" width="2.00" height="3.00" fill="#fff" stroke="#888" stroke-width="0.5"/>
<rect x="481.40" y="1117.60" width="9.80" height="3.00" fill="#fff" stroke="#888" stroke-width="0.5"/>
<rect x="496.10" y="1117.60" width="2.70" height="3.00" fill="#fff" stroke="#888" stroke-width="0.5"/>
<rect x="504.30" y="1117.60" width="7.60" height="3.00" fill="#fff" stroke="#888" stroke-width="0.5"/>
<rect x="518.50" y="1117.60" width="3.90" height="3.00" fill="#fff" stroke="#888" stroke-width="0.5"/>
<rect x="524.00" y="1117.60" width="12.20" height="3.00" fill="#fff" stroke="#888" stroke-width="0.5"/>
<line x1="45.90" y1="1152.00" x2="644.00" y2="1152.00" stroke="#666666" stroke-width="1.8"/>
<rect x="49.60" y="1150.50" width="2.50" height="3.00" fill="#fff" stroke="#888" stroke-width="0.5"/>
<rect x="56.60" y="1150.50" width="3.00" height="3.00" fill="#fff" stroke="#888" stroke-width="0.5"/>
<rect x="60.80" y="1150.50" width="3.20" height="3.00" fill="#fff" stroke="#888" stroke-width="0.5"/>
<rect x="64.50" y="1150.50" width="3.70" height="3.00" fill="#fff" stroke="#888" stroke-width="0.5"/>
<rect x="73.20" y="1150.50" width="11.20" height="3.00" fill="#fff" stroke="#888" stroke-width="0.5"/>
<rect x="106.70" y="1150.50" width="5.00" height="3.00" fill="#fff" stroke="#888" stroke-width="0.5"/>
<rect x="111.70" y="1150.50" width="4.90" height="3.00" fill="#fff" stroke="#888" stroke-width="0.5"/>
<rect x="119.10" y="1150.50" width="3.70" height="3.00" fill="#fff" stroke="#888" stroke-width="0.5"/>
<rect x="137.70" y="1150.50" width="7.50" height="3.00" fill="#fff" stroke="#888" stroke-width="0.5"/>
<rect x="145.90" y="1150.50" width="4.20" height="3.00" fill="#fff" stroke="#888" stroke-width="0.5"/>
<rect x="169.00" y="1150.50" width="12.30" height="3.00" fill="#fff" stroke="#888" stroke-width="0.5"/>
<rect x="193.60" y="1150.50" width="3.40" height="3.00" fill="#fff" stroke="#888" stroke-width="0.5"/>
<rect x="203.00" y="1150.50" width="2.80" height="3.00" fill="#fff" stroke="#888" stroke-width="0.5"/>
<rect x="221.50" y="1150.50" width="2.00" height="3.00" fill="#fff" stroke="#888" stroke-width="0.5"/>
<rect x="243.00" y="1150.50" width="2.00" height="3.00" fill="#fff" stroke="#888" stroke-width="0.5"/>
<rect x="248.90" y="1150.50" width="4.20" height="3.00" fill="#fff" stroke="#888" stroke-width="0.5"/>
<rect x="255.00" y="1150.50" width="2.00" height="3.00" fill="#fff" stroke="#888" stroke-width="0.5"/>
<rect x="261.90" y="1150.50" width="5.30" height="3.00" fill="#fff" stroke="#888" stroke-width="0.5"/>
<rect x="267.20" y="1150.50" width="5.20" height="3.00" fill="#fff" stroke="#888" stroke-width="0.5"/>
<rect x="277.70" y="1150.50" width="3.50" height="3.00" fill="#fff" stroke="#888" stroke-width="0.5"/>
<rect x="304.00" y="1150.50" width="3.50" height="3.00" fill="#fff" stroke="#888" stroke-width="0.5"/>
<rect x="309.20" y="1150.50" width="5.30" height="3.00" fill="#fff" stroke="#888" stroke-width="0.5"/>
<rect x="315.50" y="1150.50" width="4.20" height="3.00" fill="#fff" stroke="#888" stroke-width="0.5"/>
<rect x="321.50" y="1150.50" width="7.00" height="3.00" fill="#fff" stroke="#888" stroke-width="0.5"/>
<rect x="330.50" y="1150.50" width="6.50" height="3.00" fill="#fff" stroke="#888" stroke-width="0.5"/>
<rect x="342.50" y="1150.50" width="2.50" height="3.00" fill="#fff" stroke="#888" stroke-width="0.5"/>
<rect x="366.00" y="1150.50" width="4.40" height="3.00" fill="#fff" stroke="#888" stroke-width="0.5"/>
<rect x="374.70" y="1150.50" width="37.30" height="3.00" fill="#fff" stroke="#888" stroke-width="0.5"/>
<rect x="415.90" y="1150.50" width="3.90" height="3.00" fill="#fff" stroke="#888" stroke-width="0.5"/>
<rect x="433.50" y="1150.50" width="82.30" height="3.00" fill="#fff" stroke="#888" stroke-width="0.5"/>
<rect x="520.10" y="1150.50" width="21.40" height="3.00" fill="#fff" stroke="#888" stroke-width="0.5"/>
<rect x="556.90" y="1150.50" width="39.40" height="3.00" fill="#fff" stroke="#888" stroke-width="0.5"/>
<line x1="168.40" y1="1175.90" x2="644.00" y2="1175.90" stroke="#666666" stroke-width="1.8"/>
<rect x="179.60" y="1174.40" width="5.20" height="3.00" fill="#fff" stroke="#888" stroke-width="0.5"/>
<rect x="209.30" y="1174.40" width="3.50" height="3.00" fill="#fff" stroke="#888" stroke-width="0.5"/>
<rect x="253.10" y="1174.40" width="12.30" height="3.00" fill="#fff" stroke="#888" stroke-width="0.5"/>
<rect x="281.20" y="1174.40" width="6.30" height="3.00" fill="#fff" stroke="#888" stroke-width="0.5"/>
<rect x="298.00" y="1174.40" width="2.00" height="3.00" fill="#fff" stroke="#888" stroke-width="0.5"/>
<rect x="304.00" y="1174.40" width="10.50" height="3.00" fill="#fff" stroke="#888" stroke-width="0.5"/>
<rect x="316.20" y="1174.40" width="14.00" height="3.00" fill="#fff" stroke="#888" stroke-width="0.5"/>
<rect x="340.70" y="1174.40" width="4.30" height="3.00" fill="#fff" stroke="#888" stroke-width="0.5"/>
<rect x="345.70" y="1174.40" width="9.80" height="3.00" fill="#fff" stroke="#888" stroke-width="0.5"/>
<rect x="356.80" y="1174.40" width="2.00" height="3.00" fill="#fff" stroke="#888" stroke-width="0.5"/>
<rect x="362.00" y="1174.40" width="11.90" height="3.00" fill="#fff" stroke="#888" stroke-width="0.5"/>
<rect x="375.20" y="1174.40" width="3.90" height="3.00" fill="#fff" stroke="#888" stroke-width="0.5"/>
<rect x="380.40" y="1174.40" width="4.00" height="3.00" fill="#fff" stroke="#888" stroke-width="0.5"/>
<rect x="410.60" y="1174.40" width="6.60" height="3.00" fill="#fff" stroke="#888" stroke-width="0.5"/>
<rect x="427.30" y="1174.40" width="2.00" height="3.00" fill="#fff" stroke="#888" stroke-width="0.5"/>
<rect x="433.30" y="1174.40" width="2.00" height="3.00" fill="#fff" stroke="#888" stroke-width="0.5"/>
<rect x="450.00" y="1174.40" width="5.30" height="3.00" fill="#fff" stroke="#888" stroke-width="0.5"/>
<rect x="467.20" y="1174.40" width="6.60" height="3.00" fill="#fff" stroke="#888" stroke-width="0.5"/>
<rect x="476.40" y="1174.40" width="6.60" height="3.00" fill="#fff" stroke="#888" stroke-width="0.5"/>
<rect x="483.00" y="1174.40" width="5.90" height="3.00" fill="#fff" stroke="#888" stroke-width="0.5"/>
<rect x="492.90" y="1174.40" width="4.90" height="3.00" fill="#fff" stroke="#888" stroke-width="0.5"/>
<rect x="499.40" y="1174.40" width="6.60" height="3.00" fill="#fff" stroke="#888" stroke-width="0.5"/>
<rect x="507.60" y="1174.40" width="6.60" height="3.00" fill="#fff" stroke="#888" stroke-width="0.5"/>
<rect x="515.80" y="1174.40" width="3.30" height="3.00" fill="#fff" stroke="#888" stroke-width="0.5"/>
<rect x="528.30" y="1174.40" width="36.80" height="3.00" fill="#fff" stroke="#888" stroke-width="0.5"/>
<rect x="594.00" y="1174.40" width="7.90" height="3.00" fill="#fff" stroke="#888" stroke-width="0.5"/>
<rect x="609.50" y="1174.40" width="3.30" height="3.00" fill="#fff" stroke="#888" stroke-width="0.5"/>
<rect x="613.70" y="1174.40" width="3.30" height="3.00" fill="#fff" stroke="#888" stroke-width="0.5"/>
<rect x="620.30" y="1174.40" width="10.50" height="3.00" fill="#fff" stroke="#888" stroke-width="0.5"/>
<rect x="634.10" y="1174.40" width="4.90" height="3.00" fill="#fff" stroke="#888" stroke-width="0.5"/>
<rect x="640.00" y="1174.40" width="4.00" height="3.00" fill="#fff" stroke="#888" stroke-width="0.5"/>
<rect x="330.00" y="1116.10" width="15.00" height="6.00" fill="#0000ff" fill-opacity="0.55"/>
<rect x="331.10" y="1117.90" width="0.80" height="2.40" fill="#000044" fill-opacity="0.7"/>
<rect x="334.21" y="1117.90" width="0.80" height="2.40" fill="#000044" fill-opacity="0.7"/>
<rect x="339.48" y="1117.90" width="0.80" height="2.40" fill="#000044" fill-opacity="0.7"/>
<rect x="345.50" y="1116.10" width="16.00" height="6.00" fill="#0000ff" fill-opacity="0.55"/>
<rect x="346.60" y="1117.90" width="0.80" height="2.40" fill="#000044" fill-opacity="0.7"/>
<rect x="350.84" y="1117.90" width="0.80" height="2.40" fill="#000044" fill-opacity="0.7"/>
<rect x="354.73" y="1117.90" width="0.80" height="2.40" fill="#000044" fill-opacity="0.7"/>
<rect x="454.00" y="1116.10" width="16.30" height="6.00" fill="#0000ff" fill-opacity="0.55"/>
<rect x="455.10" y="1117.90" width="0.80" height="2.40" fill="#000044" fill-opacity="0.7"/>
<rect x="459.05" y="1117.90" width="0.80" height="2.40" fill="#000044" fill-opacity="0.7"/>
<rect x="462.80" y="1117.90" width="0.80" height="2.40" fill="#000044" fill-opacity="0.7"/>
<rect x="467.55" y="1117.90" width="0.80" height="2.40" fill="#000044" fill-opacity="0.7"/>
<rect x="632.50" y="1117.50" width="4.90" height="3.20" fill="#ff0000"/>
<text x="347.30" y="1103.53" font-size="6.2" fill="#1a1aff" stroke="#1a1aff" stroke-width="0.18" text-anchor="middle" font-weight="bold">PL3</text>
<text x="339.20" y="1112.43" font-size="6.2" fill="#1a1aff" stroke="#1a1aff" stroke-width="0.18" text-anchor="middle">10</text>
<text x="353.60" y="1112.43" font-size="6.2" fill="#1a1aff" stroke="#1a1aff" stroke-width="0.18" text-anchor="middle">17</text>
<text x="462.50" y="1104.03" font-size="6.2" fill="#1a1aff" stroke="#1a1aff" stroke-width="0.18" text-anchor="middle" font-weight="bold">PL7</text>
<text x="462.40" y="1112.43" font-size="6.2" fill="#1a1aff" stroke="#1a1aff" stroke-width="0.18" text-anchor="middle">4</text>
<text x="361.30" y="1158.73" font-size="6.2" fill="#1a1aff" stroke="#1a1aff" stroke-width="0.18" text-anchor="middle">Ø</text>
<text x="449.50" y="1183.63" font-size="6.2" fill="#1a1aff" stroke="#1a1aff" stroke-width="0.18" text-anchor="middle">Ø</text>
<line x1="46.30" y1="1207.30" x2="653.50" y2="1207.30" stroke="#555" stroke-width="0.8"/>
<line x1="46.30" y1="1207.30" x2="46.30" y2="1209.30" stroke="#555" stroke-width="0.6"/>
<text x="46.30" y="1216.20" font-size="5.0" fill="#000" stroke="#000" stroke-width="0.18" text-anchor="middle">0</text>
<line x1="147.50" y1="1207.30" x2="147.50" y2="1209.30" stroke="#555" stroke-width="0.6"/>
<text x="147.50" y="1216.20" font-size="5.0" fill="#000" stroke="#000" stroke-width="0.18" text-anchor="middle">100,000</text>
<line x1="248.70" y1="1207.30" x2="248.70" y2="1209.30" stroke="#555" stroke-width="0.6"/>
<text x="248.70" y="1216.20" font-size="5.0" fill="#000" stroke="#000" stroke-width="0.18" text-anchor="middle">200,000</text>
<line x1="349.90" y1="1207.30" x2="349.90" y2="1209.30" stroke="#555" stroke-width="0.6"/>
<text x="349.90" y="1216.20" font-size="5.0" fill="#000" stroke="#000" stroke-width="0.18" text-anchor="middle">300,000</text>
<line x1="451.10" y1="1207.30" x2="451.10" y2="1209.30" stroke="#555" stroke-width="0.6"/>
<text x="451.10" y="1216.20" font-size="5.0" fill="#000" stroke="#000" stroke-width="0.18" text-anchor="middle">400,000</text>
<line x1="552.30" y1="1207.30" x2="552.30" y2="1209.30" stroke="#555" stroke-width="0.6"/>
<text x="552.30" y="1216.20" font-size="5.0" fill="#000" stroke="#000" stroke-width="0.18" text-anchor="middle">500,000</text>
<line x1="653.50" y1="1207.30" x2="653.50" y2="1209.30" stroke="#555" stroke-width="0.6"/>
<text x="653.50" y="1216.20" font-size="5.0" fill="#000" stroke="#000" stroke-width="0.18" text-anchor="middle">600,000</text>
<text x="670.20" y="1216.20" font-size="5.0" fill="#000" stroke="#000" stroke-width="0.18" text-anchor="middle">(pb)</text>
</svg>
</body></html>
